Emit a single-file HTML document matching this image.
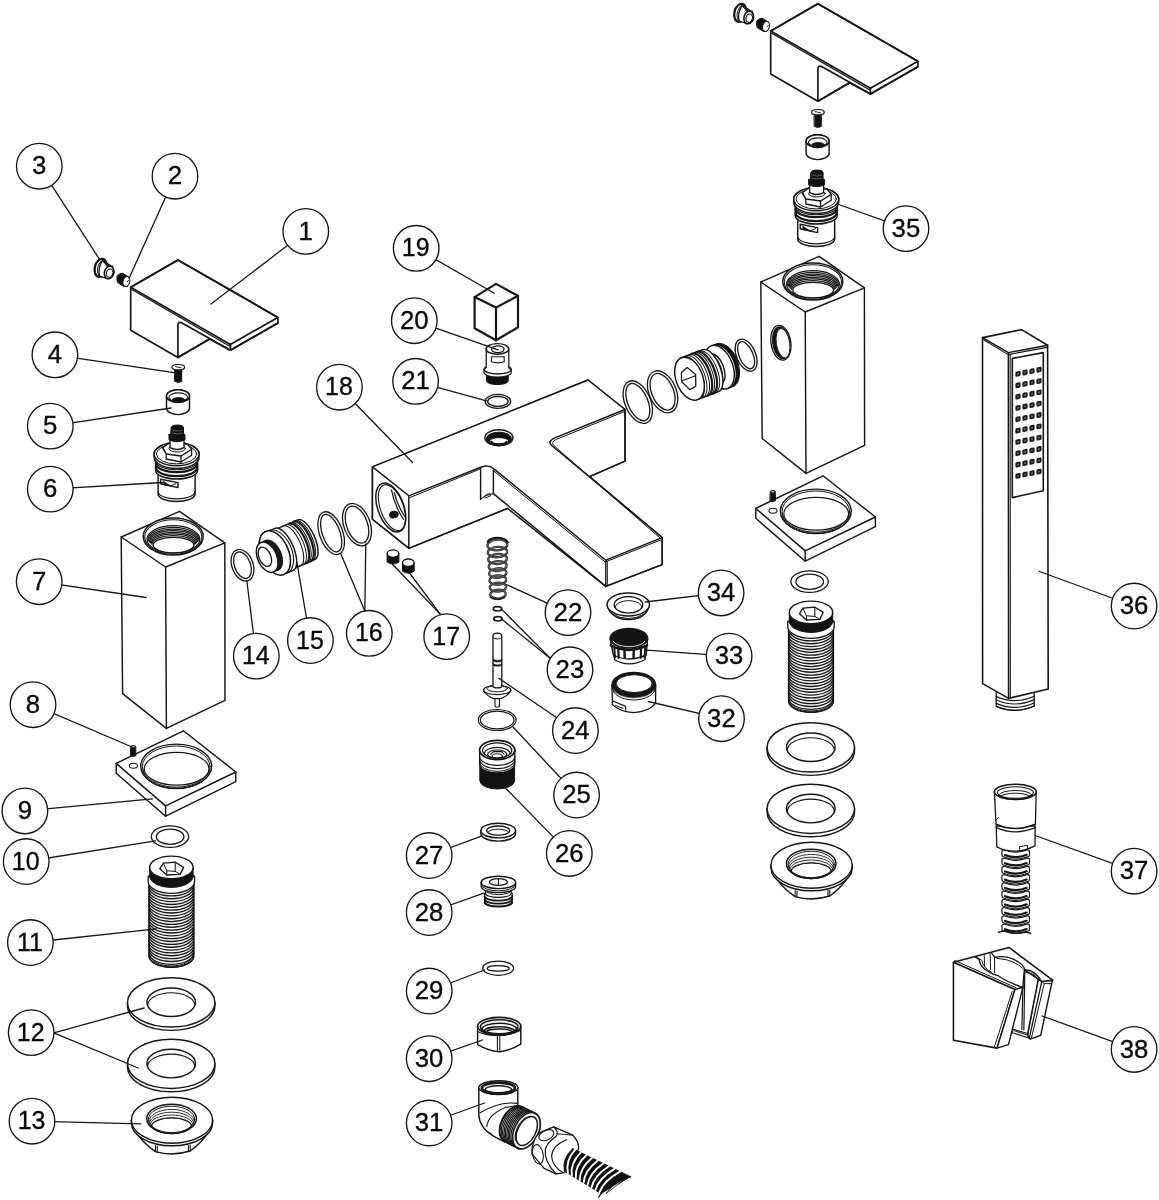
<!DOCTYPE html>
<html><head><meta charset="utf-8"><title>Exploded parts diagram</title>
<style>
html,body{margin:0;padding:0;background:#fff;}
svg{display:block;filter:grayscale(1);}
text{font-family:"Liberation Sans",sans-serif;font-size:26.4px;fill:#0a0a0a;stroke:#0a0a0a;stroke-width:0.35px;text-anchor:middle;}
</style></head><body>
<svg width="1159" height="1200" viewBox="0 0 1159 1200">
<rect width="1159" height="1200" fill="#fff"/>
<g fill="none" stroke="#161616" stroke-width="1.45" stroke-linejoin="round" stroke-linecap="round">
<g transform="translate(0.00 0.00)">
<path d="M130.70 287.20 L177.90 259.90 L277.90 317.40 L277.90 323.00 L230.40 350.20 L209.60 339.00 L177.90 357.40 L130.70 330.20 Z" fill="#fff" stroke-width="1.7" />
<path d="M130.70 287.20 L177.90 259.90 L277.90 317.40 L230.40 344.40 Z" fill="none" stroke-width="1.7" />
<path d="M131.80 289.40 L229.80 346.20" fill="none" stroke-width="1.2" />
<path d="M230.40 344.40 L230.40 350.20" fill="none" stroke-width="1.7" />
<path d="M230.40 350.20 L277.90 323.00" fill="none" stroke-width="1.7" />
<path d="M177.90 357.40 L177.90 325.20 Q177.90 321.40 181.60 322.80 L230.40 350.20" fill="none" stroke-width="1.7" />
<path d="M177.90 357.40 L209.60 339.00" fill="none" stroke-width="1.7" />
</g>
<ellipse cx="100.60" cy="267.80" rx="5.75" ry="9.16" fill="#fff" transform="rotate(14.00 100.60 267.80)" stroke-width="2.3"/>
<ellipse cx="102.40" cy="268.40" rx="4.76" ry="7.95" fill="#fff" transform="rotate(14.00 102.40 268.40)" stroke-width="1.0"/>
<path d="M102.6 260.4 L110.2 265.4 Q114.2 268.4 113.8 273 Q112.4 278.4 107.4 278.6 L99.6 276.2 Q97.4 268 102.6 260.4 Z" fill="#fff" stroke-width="1.3" />
<path d="M103.6 261.6 L109.6 267 L112.6 266.4" fill="none" stroke-width="1.6" />
<path d="M105.6 265.0 L108.8 268.0" fill="none" stroke-width="1.0" />
<ellipse cx="109.10" cy="272.50" rx="4.68" ry="6.39" fill="#fff" transform="rotate(14.00 109.10 272.50)" stroke-width="1.6"/>
<ellipse cx="109.60" cy="273.20" rx="3.23" ry="4.25" fill="none" transform="rotate(14.00 109.60 273.20)" stroke-width="1.1"/>
<path d="M117.2 276.2 Q118.4 273.6 122.4 273.2 L128.4 276.8 L127.4 286.2 L123.6 286.4 L117.6 282.6 Q116.4 279.6 117.2 276.2 Z" fill="#111" stroke-width="1" />
<ellipse cx="126.40" cy="281.40" rx="3.35" ry="5.01" fill="#fff" transform="rotate(16.00 126.40 281.40)" stroke-width="1.1"/>
<path d="M128.6 280.4 L127.2 281.8" fill="none" stroke-width="1.0" />
<path d="M174.9 370 L181.7 370 L181.7 381.5 Q178.3 383.3 174.9 381.5 Z" fill="#111" stroke-width="1" />
<path d="M172 367.3 Q178.3 372.8 184.6 367.3 Z" fill="#fff" stroke-width="1.1" />
<ellipse cx="178.30" cy="367.20" rx="6.30" ry="2.70" fill="#fff" stroke-width="1.2"/>
<path d="M175.50 366.60 L181.00 367.80" fill="none" stroke-width="0.9" />
<path d="M166.50 396.20 L166.50 408.20 A11.50 6.40 0 0 0 189.50 408.20 L189.50 396.20 A11.50 6.40 0 0 0 166.50 396.20 Z" fill="#fff" />
<ellipse cx="178.00" cy="396.20" rx="11.50" ry="6.40" fill="#fff"/>
<ellipse cx="178.20" cy="397.40" rx="9.40" ry="4.50" fill="none" stroke-width="1.1"/>
<path d="M169.6 398.6 A8.8 4.4 0 0 0 186.8 398.6" fill="none" stroke-width="1.0" />
<ellipse cx="178.60" cy="399.80" rx="6.40" ry="2.30" fill="#111" stroke-width="0.8"/>
<path d="M158.10 471.00 L158.10 494.00 A18.50 7.50 0 0 0 195.10 494.00 L195.10 471.00" fill="#fff" />
<path d="M158.10 491.40 A18.50 7.50 0 0 0 195.10 491.40" fill="none" stroke-width="1.1" />
<path d="M155.60 456 L155.60 470.5 A21 8.5 0 0 0 197.60 470.5 L197.60 456 Z" fill="#fff" />
<path d="M155.60 461.20 A21.00 8.50 0 0 0 197.60 461.20" fill="none" stroke-width="1.1" />
<path d="M156.00 463.80 A20.60 8.30 0 0 0 197.20 463.80" fill="none" stroke-width="2.2" />
<path d="M156.00 467.80 A20.60 8.30 0 0 0 197.20 467.80" fill="none" stroke-width="2.2" />
<path d="M160.6 479.2 L178 482.6 L178 487.6 L160.6 483.8 Z" fill="#fff" stroke-width="1.4" />
<path d="M163.6 481.4 L170.5 486 L163.6 484.6 Z" fill="#111" stroke-width="0.8" />
<path d="M170.50 486.00 L176.00 483.60" fill="none" stroke-width="1.0" />
<path d="M154.10 454.20 L154.10 457.00 A22.50 11.60 0 0 0 199.10 457.00 L199.10 454.20 A22.50 11.60 0 0 0 154.10 454.20 Z" fill="#fff" />
<ellipse cx="176.60" cy="454.20" rx="22.50" ry="11.60" fill="#fff"/>
<ellipse cx="176.60" cy="454.00" rx="20.20" ry="9.90" fill="none" stroke-width="1.0"/>
<path d="M162.6 447.6 L169 443.2 L187.4 444 L191.6 449.4 L191.6 455.2 L181 462 L166.2 459 L166.2 454 Z" fill="#fff" stroke-width="1.3" />
<path d="M162.6 447.6 L166.4 454 L181 456 L191.6 449.4" fill="none" stroke-width="1.3" />
<path d="M181.00 456.00 L181.00 462.00" fill="none" stroke-width="1.3" />
<ellipse cx="177.20" cy="448.60" rx="8.20" ry="3.40" fill="none" stroke-width="1.0"/>
<path d="M170 440 L170 447.6 Q177 451.4 184 447.6 L184 440 Z" fill="#fff" stroke-width="1.3" />
<path d="M169 434.6 L169 439.8 Q177 443.6 185 439.8 L185 434.6 Q177 431 169 434.6 Z" fill="#111" stroke-width="1" />
<path d="M171 428 Q171 425.2 177.2 425 Q183.5 425.2 183.5 428 L183.5 437 Q177.2 440 171 437 Z" fill="#111" stroke-width="1" />
<path d="M172.4 430.2 Q177.2 432.0 182.2 430.2" fill="none" stroke-width="0.6" stroke="#888"/>
<path d="M172.4 433.2 Q177.2 435.0 182.2 433.2" fill="none" stroke-width="0.6" stroke="#888"/>
<path d="M179.50 511.30 L224.80 542.80 L225.00 700.40 L166.40 728.40 L122.60 693.60 L121.20 537.00 Z" fill="#fff" />
<path d="M121.20 537.00 L165.60 567.00 L224.80 542.80" fill="none" />
<path d="M165.60 567.00 L166.40 728.40" fill="none" />
<ellipse cx="173.20" cy="536.50" rx="30.00" ry="18.50" fill="#fff"/>
<ellipse cx="173.30" cy="537.00" rx="28.60" ry="17.30" fill="none" stroke-width="1.1"/>
<ellipse cx="173.40" cy="539.30" rx="26.40" ry="13.60" fill="none" stroke-width="1.2"/>
<path d="M147.83 540.13 A25.57 12.77 0 0 1 198.97 540.13" fill="none" stroke-width="1.25" />
<path d="M148.66 540.96 A24.74 11.94 0 0 1 198.14 540.96" fill="none" stroke-width="1.25" />
<path d="M149.49 541.79 A23.91 11.11 0 0 1 197.31 541.79" fill="none" stroke-width="1.25" />
<path d="M150.31 542.61 A23.09 10.29 0 0 1 196.49 542.61" fill="none" stroke-width="1.25" />
<path d="M151.14 543.44 A22.26 9.46 0 0 1 195.66 543.44" fill="none" stroke-width="1.25" />
<path d="M151.97 544.27 A21.43 8.63 0 0 1 194.83 544.27" fill="none" stroke-width="1.25" />
<ellipse cx="173.50" cy="545.10" rx="20.40" ry="7.70" fill="#fff" stroke-width="1.3"/>
<path d="M183.40 730.80 L235.80 772.00 L235.80 781.70 L165.60 816.20 L116.20 773.30 L116.20 763.40 Z" fill="#fff" />
<path d="M116.20 763.40 L165.60 805.90 L235.80 772.00" fill="none" />
<path d="M165.60 805.90 L165.60 816.20" fill="none" />
<ellipse cx="176.20" cy="766.20" rx="35.40" ry="22.10" fill="none"/>
<ellipse cx="176.20" cy="766.60" rx="33.80" ry="20.60" fill="none" stroke-width="1.0"/>
<ellipse cx="176.60" cy="768.80" rx="32.40" ry="16.40" fill="none" stroke-width="1.2"/>
<path d="M143.00 769.60 A33 19 0 0 0 209.60 769.60" fill="none" stroke-width="1.0" />
<ellipse cx="133.40" cy="765.80" rx="4.10" ry="2.50" fill="none" stroke-width="1.1"/>
<path d="M130.6 747 Q130.6 745.6 133.2 745.6 Q135.8 745.6 135.8 747 L135.8 755.8 Q133.2 757.2 130.6 755.8 Z" fill="#111" stroke-width="1" />
<ellipse cx="133.20" cy="746.80" rx="2.20" ry="1.00" fill="#ddd" stroke-width="0.7"/>
<ellipse cx="170.00" cy="836.60" rx="18.70" ry="10.80" fill="#fff" stroke-width="1.3"/>
<ellipse cx="170.10" cy="836.70" rx="13.80" ry="7.60" fill="none" stroke-width="1.3"/>
<path d="M149.00 876.00 L149.00 955.80 A22.40 11.40 0 0 0 193.80 955.80 L193.80 876.00 Z" fill="#fff" />
<path d="M149.00 884.50 A22.40 11.40 0 0 0 193.80 884.50" fill="none" stroke-width="1.35" />
<path d="M149.00 887.35 A22.40 11.40 0 0 0 193.80 887.35" fill="none" stroke-width="1.35" />
<path d="M149.00 890.20 A22.40 11.40 0 0 0 193.80 890.20" fill="none" stroke-width="1.35" />
<path d="M149.00 893.06 A22.40 11.40 0 0 0 193.80 893.06" fill="none" stroke-width="1.35" />
<path d="M149.00 895.91 A22.40 11.40 0 0 0 193.80 895.91" fill="none" stroke-width="1.35" />
<path d="M149.00 898.76 A22.40 11.40 0 0 0 193.80 898.76" fill="none" stroke-width="1.35" />
<path d="M149.00 901.61 A22.40 11.40 0 0 0 193.80 901.61" fill="none" stroke-width="1.35" />
<path d="M149.00 904.46 A22.40 11.40 0 0 0 193.80 904.46" fill="none" stroke-width="1.35" />
<path d="M149.00 907.32 A22.40 11.40 0 0 0 193.80 907.32" fill="none" stroke-width="1.35" />
<path d="M149.00 910.17 A22.40 11.40 0 0 0 193.80 910.17" fill="none" stroke-width="1.35" />
<path d="M149.00 913.02 A22.40 11.40 0 0 0 193.80 913.02" fill="none" stroke-width="1.35" />
<path d="M149.00 915.87 A22.40 11.40 0 0 0 193.80 915.87" fill="none" stroke-width="1.35" />
<path d="M149.00 918.72 A22.40 11.40 0 0 0 193.80 918.72" fill="none" stroke-width="1.35" />
<path d="M149.00 921.58 A22.40 11.40 0 0 0 193.80 921.58" fill="none" stroke-width="1.35" />
<path d="M149.00 924.43 A22.40 11.40 0 0 0 193.80 924.43" fill="none" stroke-width="1.35" />
<path d="M149.00 927.28 A22.40 11.40 0 0 0 193.80 927.28" fill="none" stroke-width="1.35" />
<path d="M149.00 930.13 A22.40 11.40 0 0 0 193.80 930.13" fill="none" stroke-width="1.35" />
<path d="M149.00 932.98 A22.40 11.40 0 0 0 193.80 932.98" fill="none" stroke-width="1.35" />
<path d="M149.00 935.84 A22.40 11.40 0 0 0 193.80 935.84" fill="none" stroke-width="1.35" />
<path d="M149.00 938.69 A22.40 11.40 0 0 0 193.80 938.69" fill="none" stroke-width="1.35" />
<path d="M149.00 941.54 A22.40 11.40 0 0 0 193.80 941.54" fill="none" stroke-width="1.35" />
<path d="M149.00 944.39 A22.40 11.40 0 0 0 193.80 944.39" fill="none" stroke-width="1.35" />
<path d="M149.00 947.24 A22.40 11.40 0 0 0 193.80 947.24" fill="none" stroke-width="1.35" />
<path d="M149.00 950.10 A22.40 11.40 0 0 0 193.80 950.10" fill="none" stroke-width="1.35" />
<path d="M149.00 952.95 A22.40 11.40 0 0 0 193.80 952.95" fill="none" stroke-width="1.35" />
<path d="M149.00 955.80 A22.40 11.40 0 0 0 193.80 955.80" fill="none" stroke-width="1.35" />
<path d="M149.80 954.60 A21.60 11.40 0 0 0 193.00 954.60" fill="none" stroke-width="1.0" />
<path d="M148.20 876.5 L148.20 881.5 A23.20 11.80 0 0 0 194.60 881.5 L194.60 876.5 Z" fill="#fff" stroke-width="1.3" />
<path d="M149.70 867.60 L149.70 876.20 A21.70 11.20 0 0 0 193.10 876.20 L193.10 867.60 A21.70 11.20 0 0 1 149.70 867.60 Z" fill="#111" stroke-width="1" />
<ellipse cx="171.40" cy="867.40" rx="21.70" ry="11.30" fill="#fff"/>
<path d="M159.80 868.80 L163.40 863.20 L175.40 862.20 L183.60 867.40 L180.20 874.40 L166.80 875.00 Z" fill="none" stroke-width="1.3" />
<path d="M175.20 862.40 L175.20 871.40" fill="none" stroke-width="1.1" />
<path d="M163.4 863.2 L166.8 870.8 L175.2 871.4 L180.2 874.4" fill="none" stroke-width="1.0" />
<path d="M166.80 870.80 L166.80 875.00" fill="none" stroke-width="1.0" />
<path d="M127.50 1002.40 L127.50 1005.80 A43.7 24.6 0 0 0 214.90 1005.80 L214.90 1002.40" fill="#fff" />
<ellipse cx="171.20" cy="1002.40" rx="43.70" ry="24.60" fill="#fff"/>
<ellipse cx="171.20" cy="1002.20" rx="24.30" ry="14.30" fill="#fff"/>
<path d="M147.60 1005.40 A23.4 12.6 0 0 1 194.80 1005.40" fill="none" stroke-width="1.1" />
<path d="M127.50 1063.80 L127.50 1067.20 A43.7 24.6 0 0 0 214.90 1067.20 L214.90 1063.80" fill="#fff" />
<ellipse cx="171.20" cy="1063.80" rx="43.70" ry="24.60" fill="#fff"/>
<ellipse cx="171.20" cy="1063.60" rx="24.30" ry="14.30" fill="#fff"/>
<path d="M147.60 1066.80 A23.4 12.6 0 0 1 194.80 1066.80" fill="none" stroke-width="1.1" />
<path d="M131.40 1120.20 Q134.6 1137 155.4 1151.6 Q172 1156.5 190.2 1151 Q209.6 1137 212.60 1120.20 Z" fill="#fff" />
<path d="M141 1138.5 Q172 1150 203.5 1137.5" fill="none" stroke-width="1.0" />
<path d="M155.60 1145.50 L155.40 1151.60" fill="none" stroke-width="1.1" />
<path d="M157.40 1146.00 L157.20 1152.20" fill="none" stroke-width="1.1" />
<path d="M188.40 1145.60 L188.40 1151.60" fill="none" stroke-width="1.1" />
<path d="M190.20 1145.00 L190.20 1151.00" fill="none" stroke-width="1.1" />
<path d="M131.40 1120.20 L131.40 1122.80 A40.6 23 0 0 0 212.60 1122.80 L212.60 1120.20" fill="#fff" />
<ellipse cx="172.00" cy="1120.20" rx="40.60" ry="23.00" fill="#fff"/>
<ellipse cx="171.60" cy="1118.80" rx="24.80" ry="14.60" fill="#fff"/>
<ellipse cx="171.60" cy="1119.40" rx="23.20" ry="13.20" fill="none" stroke-width="1.0"/>
<path d="M149.00 1121.20 A22.60 11.80 0 0 1 194.20 1121.20" fill="none" stroke-width="0.9" />
<path d="M149.60 1123.00 A22.00 10.80 0 0 1 193.60 1123.00" fill="none" stroke-width="0.9" />
<path d="M150.20 1124.80 A21.40 9.80 0 0 1 193.00 1124.80" fill="none" stroke-width="0.9" />
<path d="M151.00 1126.60 A20.60 9.00 0 0 1 192.20 1126.60" fill="none" stroke-width="0.9" />
<path d="M151.60 1126.40 A19 8 0 0 1 191.60 1126.40 A21 10.4 0 0 1 151.60 1126.40" fill="none" stroke-width="1.1" />
<g transform="translate(639.60 -255.00)">
<g transform="translate(0.40 -1.20)">
<path d="M130.70 287.20 L177.90 259.90 L277.90 317.40 L277.90 323.00 L230.40 350.20 L209.60 339.00 L177.90 357.40 L130.70 330.20 Z" fill="#fff" stroke-width="1.7" />
<path d="M130.70 287.20 L177.90 259.90 L277.90 317.40 L230.40 344.40 Z" fill="none" stroke-width="1.7" />
<path d="M131.80 289.40 L229.80 346.20" fill="none" stroke-width="1.2" />
<path d="M230.40 344.40 L230.40 350.20" fill="none" stroke-width="1.7" />
<path d="M230.40 350.20 L277.90 323.00" fill="none" stroke-width="1.7" />
<path d="M177.90 357.40 L177.90 325.20 Q177.90 321.40 181.60 322.80 L230.40 350.20" fill="none" stroke-width="1.7" />
<path d="M177.90 357.40 L209.60 339.00" fill="none" stroke-width="1.7" />
</g>
<ellipse cx="100.60" cy="267.80" rx="5.75" ry="9.16" fill="#fff" transform="rotate(14.00 100.60 267.80)" stroke-width="2.3"/>
<ellipse cx="102.40" cy="268.40" rx="4.76" ry="7.95" fill="#fff" transform="rotate(14.00 102.40 268.40)" stroke-width="1.0"/>
<path d="M102.6 260.4 L110.2 265.4 Q114.2 268.4 113.8 273 Q112.4 278.4 107.4 278.6 L99.6 276.2 Q97.4 268 102.6 260.4 Z" fill="#fff" stroke-width="1.3" />
<path d="M103.6 261.6 L109.6 267 L112.6 266.4" fill="none" stroke-width="1.6" />
<path d="M105.6 265.0 L108.8 268.0" fill="none" stroke-width="1.0" />
<ellipse cx="109.10" cy="272.50" rx="4.68" ry="6.39" fill="#fff" transform="rotate(14.00 109.10 272.50)" stroke-width="1.6"/>
<ellipse cx="109.60" cy="273.20" rx="3.23" ry="4.25" fill="none" transform="rotate(14.00 109.60 273.20)" stroke-width="1.1"/>
<path d="M117.2 276.2 Q118.4 273.6 122.4 273.2 L128.4 276.8 L127.4 286.2 L123.6 286.4 L117.6 282.6 Q116.4 279.6 117.2 276.2 Z" fill="#111" stroke-width="1" />
<ellipse cx="126.40" cy="281.40" rx="3.35" ry="5.01" fill="#fff" transform="rotate(16.00 126.40 281.40)" stroke-width="1.1"/>
<path d="M128.6 280.4 L127.2 281.8" fill="none" stroke-width="1.0" />
<path d="M174.9 370 L181.7 370 L181.7 381.5 Q178.3 383.3 174.9 381.5 Z" fill="#111" stroke-width="1" />
<path d="M172 367.3 Q178.3 372.8 184.6 367.3 Z" fill="#fff" stroke-width="1.1" />
<ellipse cx="178.30" cy="367.20" rx="6.30" ry="2.70" fill="#fff" stroke-width="1.2"/>
<path d="M175.50 366.60 L181.00 367.80" fill="none" stroke-width="0.9" />
<path d="M166.50 396.20 L166.50 408.20 A11.50 6.40 0 0 0 189.50 408.20 L189.50 396.20 A11.50 6.40 0 0 0 166.50 396.20 Z" fill="#fff" />
<ellipse cx="178.00" cy="396.20" rx="11.50" ry="6.40" fill="#fff"/>
<ellipse cx="178.20" cy="397.40" rx="9.40" ry="4.50" fill="none" stroke-width="1.1"/>
<path d="M169.6 398.6 A8.8 4.4 0 0 0 186.8 398.6" fill="none" stroke-width="1.0" />
<ellipse cx="178.60" cy="399.80" rx="6.40" ry="2.30" fill="#111" stroke-width="0.8"/>
<path d="M158.10 471.00 L158.10 494.00 A18.50 7.50 0 0 0 195.10 494.00 L195.10 471.00" fill="#fff" />
<path d="M158.10 491.40 A18.50 7.50 0 0 0 195.10 491.40" fill="none" stroke-width="1.1" />
<path d="M155.60 456 L155.60 470.5 A21 8.5 0 0 0 197.60 470.5 L197.60 456 Z" fill="#fff" />
<path d="M155.60 461.20 A21.00 8.50 0 0 0 197.60 461.20" fill="none" stroke-width="1.1" />
<path d="M156.00 463.80 A20.60 8.30 0 0 0 197.20 463.80" fill="none" stroke-width="2.2" />
<path d="M156.00 467.80 A20.60 8.30 0 0 0 197.20 467.80" fill="none" stroke-width="2.2" />
<path d="M160.6 479.2 L178 482.6 L178 487.6 L160.6 483.8 Z" fill="#fff" stroke-width="1.4" />
<path d="M163.6 481.4 L170.5 486 L163.6 484.6 Z" fill="#111" stroke-width="0.8" />
<path d="M170.50 486.00 L176.00 483.60" fill="none" stroke-width="1.0" />
<path d="M154.10 454.20 L154.10 457.00 A22.50 11.60 0 0 0 199.10 457.00 L199.10 454.20 A22.50 11.60 0 0 0 154.10 454.20 Z" fill="#fff" />
<ellipse cx="176.60" cy="454.20" rx="22.50" ry="11.60" fill="#fff"/>
<ellipse cx="176.60" cy="454.00" rx="20.20" ry="9.90" fill="none" stroke-width="1.0"/>
<path d="M162.6 447.6 L169 443.2 L187.4 444 L191.6 449.4 L191.6 455.2 L181 462 L166.2 459 L166.2 454 Z" fill="#fff" stroke-width="1.3" />
<path d="M162.6 447.6 L166.4 454 L181 456 L191.6 449.4" fill="none" stroke-width="1.3" />
<path d="M181.00 456.00 L181.00 462.00" fill="none" stroke-width="1.3" />
<ellipse cx="177.20" cy="448.60" rx="8.20" ry="3.40" fill="none" stroke-width="1.0"/>
<path d="M170 440 L170 447.6 Q177 451.4 184 447.6 L184 440 Z" fill="#fff" stroke-width="1.3" />
<path d="M169 434.6 L169 439.8 Q177 443.6 185 439.8 L185 434.6 Q177 431 169 434.6 Z" fill="#111" stroke-width="1" />
<path d="M171 428 Q171 425.2 177.2 425 Q183.5 425.2 183.5 428 L183.5 437 Q177.2 440 171 437 Z" fill="#111" stroke-width="1" />
<path d="M172.4 430.2 Q177.2 432.0 182.2 430.2" fill="none" stroke-width="0.6" stroke="#888"/>
<path d="M172.4 433.2 Q177.2 435.0 182.2 433.2" fill="none" stroke-width="0.6" stroke="#888"/>
<path d="M179.50 511.30 L224.80 542.80 L225.00 700.40 L166.40 728.40 L122.60 693.60 L121.20 537.00 Z" fill="#fff" />
<path d="M121.20 537.00 L165.60 567.00 L224.80 542.80" fill="none" />
<path d="M165.60 567.00 L166.40 728.40" fill="none" />
<ellipse cx="173.20" cy="536.50" rx="30.00" ry="18.50" fill="#fff"/>
<ellipse cx="173.30" cy="537.00" rx="28.60" ry="17.30" fill="none" stroke-width="1.1"/>
<ellipse cx="173.40" cy="539.30" rx="26.40" ry="13.60" fill="none" stroke-width="1.2"/>
<path d="M147.83 540.13 A25.57 12.77 0 0 1 198.97 540.13" fill="none" stroke-width="1.25" />
<path d="M148.66 540.96 A24.74 11.94 0 0 1 198.14 540.96" fill="none" stroke-width="1.25" />
<path d="M149.49 541.79 A23.91 11.11 0 0 1 197.31 541.79" fill="none" stroke-width="1.25" />
<path d="M150.31 542.61 A23.09 10.29 0 0 1 196.49 542.61" fill="none" stroke-width="1.25" />
<path d="M151.14 543.44 A22.26 9.46 0 0 1 195.66 543.44" fill="none" stroke-width="1.25" />
<path d="M151.97 544.27 A21.43 8.63 0 0 1 194.83 544.27" fill="none" stroke-width="1.25" />
<ellipse cx="173.50" cy="545.10" rx="20.40" ry="7.70" fill="#fff" stroke-width="1.3"/>
<ellipse cx="141.30" cy="597.70" rx="9.84" ry="17.55" fill="#fff" transform="rotate(-9.00 141.30 597.70)" stroke-width="1.3"/>
<ellipse cx="141.60" cy="597.80" rx="8.63" ry="16.34" fill="#161616" transform="rotate(-9.00 141.60 597.80)" stroke-width="0.8"/>
<ellipse cx="143.40" cy="598.20" rx="6.69" ry="14.85" fill="#fff" transform="rotate(-9.00 143.40 598.20)" stroke-width="0.9"/>
<path d="M183.40 730.80 L235.80 772.00 L235.80 781.70 L165.60 816.20 L116.20 773.30 L116.20 763.40 Z" fill="#fff" />
<path d="M116.20 763.40 L165.60 805.90 L235.80 772.00" fill="none" />
<path d="M165.60 805.90 L165.60 816.20" fill="none" />
<ellipse cx="176.20" cy="766.20" rx="35.40" ry="22.10" fill="none"/>
<ellipse cx="176.20" cy="766.60" rx="33.80" ry="20.60" fill="none" stroke-width="1.0"/>
<ellipse cx="176.60" cy="768.80" rx="32.40" ry="16.40" fill="none" stroke-width="1.2"/>
<path d="M143.00 769.60 A33 19 0 0 0 209.60 769.60" fill="none" stroke-width="1.0" />
<ellipse cx="133.40" cy="765.80" rx="4.10" ry="2.50" fill="none" stroke-width="1.1"/>
<path d="M130.6 747 Q130.6 745.6 133.2 745.6 Q135.8 745.6 135.8 747 L135.8 755.8 Q133.2 757.2 130.6 755.8 Z" fill="#111" stroke-width="1" />
<ellipse cx="133.20" cy="746.80" rx="2.20" ry="1.00" fill="#ddd" stroke-width="0.7"/>
<ellipse cx="170.00" cy="836.60" rx="18.70" ry="10.80" fill="#fff" stroke-width="1.3"/>
<ellipse cx="170.10" cy="836.70" rx="13.80" ry="7.60" fill="none" stroke-width="1.3"/>
<path d="M149.00 876.00 L149.00 955.80 A22.40 11.40 0 0 0 193.80 955.80 L193.80 876.00 Z" fill="#fff" />
<path d="M149.00 884.50 A22.40 11.40 0 0 0 193.80 884.50" fill="none" stroke-width="1.35" />
<path d="M149.00 887.35 A22.40 11.40 0 0 0 193.80 887.35" fill="none" stroke-width="1.35" />
<path d="M149.00 890.20 A22.40 11.40 0 0 0 193.80 890.20" fill="none" stroke-width="1.35" />
<path d="M149.00 893.06 A22.40 11.40 0 0 0 193.80 893.06" fill="none" stroke-width="1.35" />
<path d="M149.00 895.91 A22.40 11.40 0 0 0 193.80 895.91" fill="none" stroke-width="1.35" />
<path d="M149.00 898.76 A22.40 11.40 0 0 0 193.80 898.76" fill="none" stroke-width="1.35" />
<path d="M149.00 901.61 A22.40 11.40 0 0 0 193.80 901.61" fill="none" stroke-width="1.35" />
<path d="M149.00 904.46 A22.40 11.40 0 0 0 193.80 904.46" fill="none" stroke-width="1.35" />
<path d="M149.00 907.32 A22.40 11.40 0 0 0 193.80 907.32" fill="none" stroke-width="1.35" />
<path d="M149.00 910.17 A22.40 11.40 0 0 0 193.80 910.17" fill="none" stroke-width="1.35" />
<path d="M149.00 913.02 A22.40 11.40 0 0 0 193.80 913.02" fill="none" stroke-width="1.35" />
<path d="M149.00 915.87 A22.40 11.40 0 0 0 193.80 915.87" fill="none" stroke-width="1.35" />
<path d="M149.00 918.72 A22.40 11.40 0 0 0 193.80 918.72" fill="none" stroke-width="1.35" />
<path d="M149.00 921.58 A22.40 11.40 0 0 0 193.80 921.58" fill="none" stroke-width="1.35" />
<path d="M149.00 924.43 A22.40 11.40 0 0 0 193.80 924.43" fill="none" stroke-width="1.35" />
<path d="M149.00 927.28 A22.40 11.40 0 0 0 193.80 927.28" fill="none" stroke-width="1.35" />
<path d="M149.00 930.13 A22.40 11.40 0 0 0 193.80 930.13" fill="none" stroke-width="1.35" />
<path d="M149.00 932.98 A22.40 11.40 0 0 0 193.80 932.98" fill="none" stroke-width="1.35" />
<path d="M149.00 935.84 A22.40 11.40 0 0 0 193.80 935.84" fill="none" stroke-width="1.35" />
<path d="M149.00 938.69 A22.40 11.40 0 0 0 193.80 938.69" fill="none" stroke-width="1.35" />
<path d="M149.00 941.54 A22.40 11.40 0 0 0 193.80 941.54" fill="none" stroke-width="1.35" />
<path d="M149.00 944.39 A22.40 11.40 0 0 0 193.80 944.39" fill="none" stroke-width="1.35" />
<path d="M149.00 947.24 A22.40 11.40 0 0 0 193.80 947.24" fill="none" stroke-width="1.35" />
<path d="M149.00 950.10 A22.40 11.40 0 0 0 193.80 950.10" fill="none" stroke-width="1.35" />
<path d="M149.00 952.95 A22.40 11.40 0 0 0 193.80 952.95" fill="none" stroke-width="1.35" />
<path d="M149.00 955.80 A22.40 11.40 0 0 0 193.80 955.80" fill="none" stroke-width="1.35" />
<path d="M149.80 954.60 A21.60 11.40 0 0 0 193.00 954.60" fill="none" stroke-width="1.0" />
<path d="M148.20 876.5 L148.20 881.5 A23.20 11.80 0 0 0 194.60 881.5 L194.60 876.5 Z" fill="#fff" stroke-width="1.3" />
<path d="M149.70 867.60 L149.70 876.20 A21.70 11.20 0 0 0 193.10 876.20 L193.10 867.60 A21.70 11.20 0 0 1 149.70 867.60 Z" fill="#111" stroke-width="1" />
<ellipse cx="171.40" cy="867.40" rx="21.70" ry="11.30" fill="#fff"/>
<path d="M159.80 868.80 L163.40 863.20 L175.40 862.20 L183.60 867.40 L180.20 874.40 L166.80 875.00 Z" fill="none" stroke-width="1.3" />
<path d="M175.20 862.40 L175.20 871.40" fill="none" stroke-width="1.1" />
<path d="M163.4 863.2 L166.8 870.8 L175.2 871.4 L180.2 874.4" fill="none" stroke-width="1.0" />
<path d="M166.80 870.80 L166.80 875.00" fill="none" stroke-width="1.0" />
<path d="M127.50 1002.40 L127.50 1005.80 A43.7 24.6 0 0 0 214.90 1005.80 L214.90 1002.40" fill="#fff" />
<ellipse cx="171.20" cy="1002.40" rx="43.70" ry="24.60" fill="#fff"/>
<ellipse cx="171.20" cy="1002.20" rx="24.30" ry="14.30" fill="#fff"/>
<path d="M147.60 1005.40 A23.4 12.6 0 0 1 194.80 1005.40" fill="none" stroke-width="1.1" />
<path d="M127.50 1063.80 L127.50 1067.20 A43.7 24.6 0 0 0 214.90 1067.20 L214.90 1063.80" fill="#fff" />
<ellipse cx="171.20" cy="1063.80" rx="43.70" ry="24.60" fill="#fff"/>
<ellipse cx="171.20" cy="1063.60" rx="24.30" ry="14.30" fill="#fff"/>
<path d="M147.60 1066.80 A23.4 12.6 0 0 1 194.80 1066.80" fill="none" stroke-width="1.1" />
<path d="M131.40 1120.20 Q134.6 1137 155.4 1151.6 Q172 1156.5 190.2 1151 Q209.6 1137 212.60 1120.20 Z" fill="#fff" />
<path d="M141 1138.5 Q172 1150 203.5 1137.5" fill="none" stroke-width="1.0" />
<path d="M155.60 1145.50 L155.40 1151.60" fill="none" stroke-width="1.1" />
<path d="M157.40 1146.00 L157.20 1152.20" fill="none" stroke-width="1.1" />
<path d="M188.40 1145.60 L188.40 1151.60" fill="none" stroke-width="1.1" />
<path d="M190.20 1145.00 L190.20 1151.00" fill="none" stroke-width="1.1" />
<path d="M131.40 1120.20 L131.40 1122.80 A40.6 23 0 0 0 212.60 1122.80 L212.60 1120.20" fill="#fff" />
<ellipse cx="172.00" cy="1120.20" rx="40.60" ry="23.00" fill="#fff"/>
<ellipse cx="171.60" cy="1118.80" rx="24.80" ry="14.60" fill="#fff"/>
<ellipse cx="171.60" cy="1119.40" rx="23.20" ry="13.20" fill="none" stroke-width="1.0"/>
<path d="M149.00 1121.20 A22.60 11.80 0 0 1 194.20 1121.20" fill="none" stroke-width="0.9" />
<path d="M149.60 1123.00 A22.00 10.80 0 0 1 193.60 1123.00" fill="none" stroke-width="0.9" />
<path d="M150.20 1124.80 A21.40 9.80 0 0 1 193.00 1124.80" fill="none" stroke-width="0.9" />
<path d="M151.00 1126.60 A20.60 9.00 0 0 1 192.20 1126.60" fill="none" stroke-width="0.9" />
<path d="M151.60 1126.40 A19 8 0 0 1 191.60 1126.40 A21 10.4 0 0 1 151.60 1126.40" fill="none" stroke-width="1.1" />
</g>
<path d="M372.40 466.90 L588.00 380.00 L625.00 409.50 L625.00 461.20 L589.60 476.60 L662.20 537.60 L662.20 564.60 L605.80 586.40 L507.60 508.40 L408.80 548.30 L372.40 519.20 Z" fill="#fff" />
<path d="M372.40 466.90 L588.00 380.00 L625.00 409.50 L555.50 437.70 Q547.00 441.20 551.40 445.20 L662.20 537.60 L605.80 560.20 L493.60 468.60 Q488.60 464.40 481.40 467.00 L408.80 495.80 Z" fill="#fff" />
<path d="M624.2 411.6 L556.4 439.4 Q550.6 442 553.6 445.4 L661 538.8" fill="none" stroke-width="1.0" />
<path d="M410.2 497.4 L480.6 468.8" fill="none" stroke-width="1.0" />
<path d="M494.0 471.2 L605.2 562.0 L661.6 539.6" fill="none" stroke-width="1.0" />
<path d="M372.40 466.90 L372.40 519.20 L408.80 548.30 L408.80 495.80" fill="none" />
<path d="M408.80 548.30 L507.60 508.40" fill="none" />
<path d="M480.60 468.20 L480.60 499.40" fill="none" />
<path d="M493.40 470.20 L493.40 493.60" fill="none" />
<path d="M480.6 499.4 Q484 495.2 493.4 493.6" fill="none" stroke-width="1.0" />
<ellipse cx="487.60" cy="495.60" rx="3.20" ry="1.40" fill="none" transform="rotate(-22.00 487.60 495.60)" stroke-width="0.9"/>
<path d="M493.40 493.60 L605.80 586.40" fill="none" />
<path d="M605.80 560.20 L605.80 586.40" fill="none" />
<path d="M607.40 561.40 L607.40 586.00" fill="none" stroke-width="0.9" />
<path d="M605.80 586.40 L662.20 564.60" fill="none" />
<path d="M662.20 537.60 L662.20 564.60" fill="none" />
<path d="M625.00 409.50 L625.00 461.20" fill="none" />
<path d="M625.00 461.20 L589.60 476.60" fill="none" />
<ellipse cx="390.80" cy="507.50" rx="12.98" ry="25.53" fill="#fff" transform="rotate(-20.00 390.80 507.50)"/>
<ellipse cx="391.90" cy="507.60" rx="11.54" ry="24.01" fill="none" transform="rotate(-20.00 391.90 507.60)" stroke-width="1.1"/>
<path d="M391.5 489.9 Q394.2 505.3 403.5 519.3" fill="none" stroke-width="1.2" />
<path d="M394.2 492.5 Q397.1 505.3 405.2 517" fill="none" stroke-width="1.2" />
<ellipse cx="393.90" cy="514.60" rx="4.40" ry="3.30" fill="#111" transform="rotate(-10.00 393.90 514.60)" stroke-width="1"/>
<ellipse cx="498.90" cy="437.80" rx="14.00" ry="8.00" fill="#fff"/>
<path d="M486.3 438.6 A12.6 6.4 0 0 1 511.5 438.6 A12.6 7.2 0 0 1 486.3 438.6 Z" fill="#111" stroke-width="1" />
<path d="M489.5 440.8 A9.6 3.6 0 0 1 508.5 440.8 A9.6 4.2 0 0 1 489.5 440.8 Z" fill="#fff" stroke-width="0.8" />
<path d="M491.5 441.6 A7.6 2.8 0 0 0 506.5 441.6" fill="none" stroke-width="1.6" />
<ellipse cx="242.50" cy="565.20" rx="10.57" ry="16.37" fill="#fff" transform="rotate(-20.00 242.50 565.20)" stroke-width="1.3"/>
<ellipse cx="242.50" cy="565.20" rx="8.02" ry="13.85" fill="#fff" transform="rotate(-20.00 242.50 565.20)" stroke-width="1.3"/>
<path d="M275.63 529.41 L297.64 519.84 A8.80 21.60 -23.50 0 1 314.86 559.46 L292.85 569.03 A8.80 21.60 -23.50 0 1 275.63 529.41 Z" fill="#fff" />
<path d="M0 -21.60 A8.80 21.60 0 0 1 0 21.60" transform="translate(303.87 540.69) rotate(-23.50)" fill="none" stroke-width="1.0"/>
<path d="M0 -21.60 A8.80 21.60 0 0 1 0 21.60" transform="translate(302.03 541.48) rotate(-23.50)" fill="none" stroke-width="2.2"/>
<path d="M0 -21.60 A8.80 21.60 0 0 1 0 21.60" transform="translate(299.46 542.60) rotate(-23.50)" fill="none" stroke-width="1.0"/>
<path d="M0 -21.60 A8.80 21.60 0 0 1 0 21.60" transform="translate(297.45 543.48) rotate(-23.50)" fill="none" stroke-width="2.2"/>
<path d="M0 -21.60 A8.80 21.60 0 0 1 0 21.60" transform="translate(294.70 544.67) rotate(-23.50)" fill="none" stroke-width="1.0"/>
<path d="M0 -21.60 A8.80 21.60 0 0 1 0 21.60" transform="translate(291.94 545.87) rotate(-23.50)" fill="none" stroke-width="1.1"/>
<path d="M269.61 530.61 L274.93 528.30 A9.60 22.90 -23.50 0 1 293.19 570.30 L287.87 572.61 A9.60 22.90 -23.50 0 1 269.61 530.61 Z" fill="#fff" />
<ellipse cx="274.80" cy="553.00" rx="13.70" ry="23.30" fill="#fff" transform="rotate(-23.50 274.80 553.00)"/>
<ellipse cx="278.00" cy="551.80" rx="13.70" ry="23.20" fill="none" transform="rotate(-23.50 278.00 551.80)" stroke-width="1.1"/>
<ellipse cx="274.80" cy="553.00" rx="13.70" ry="23.30" fill="#fff" transform="rotate(-23.50 274.80 553.00)"/>
<ellipse cx="271.60" cy="555.40" rx="9.60" ry="16.30" fill="#1c1c1c" transform="rotate(-23.50 271.60 555.40)" stroke-width="1"/>
<ellipse cx="270.00" cy="556.00" rx="9.40" ry="16.00" fill="none" transform="rotate(-23.50 270.00 556.00)" stroke-width="0.5"/>
<ellipse cx="267.20" cy="557.20" rx="9.60" ry="16.00" fill="#fff" transform="rotate(-23.50 267.20 557.20)"/>
<ellipse cx="264.90" cy="556.80" rx="5.90" ry="10.20" fill="none" transform="rotate(-23.50 264.90 556.80)" stroke-width="1.3"/>
<ellipse cx="331.20" cy="533.20" rx="11.57" ry="22.38" fill="#fff" transform="rotate(-20.00 331.20 533.20)" stroke-width="1.3"/>
<ellipse cx="331.20" cy="533.20" rx="8.72" ry="19.65" fill="#fff" transform="rotate(-20.00 331.20 533.20)" stroke-width="1.3"/>
<ellipse cx="357.00" cy="524.60" rx="13.18" ry="22.04" fill="#fff" transform="rotate(-20.00 357.00 524.60)" stroke-width="1.3"/>
<ellipse cx="357.00" cy="524.60" rx="10.40" ry="19.32" fill="#fff" transform="rotate(-20.00 357.00 524.60)" stroke-width="1.3"/>
<path d="M387.10 553.80 L387.10 562.00 Q393.00 566.20 398.90 562.00 L398.90 553.80 Z" fill="#111" stroke-width="1" />
<ellipse cx="393.00" cy="553.60" rx="5.80" ry="3.70" fill="#fff" stroke-width="1.3"/>
<path d="M402.40 562.90 L402.40 571.10 Q408.30 575.30 414.20 571.10 L414.20 562.90 Z" fill="#111" stroke-width="1" />
<ellipse cx="408.30" cy="562.70" rx="5.80" ry="3.70" fill="#fff" stroke-width="1.3"/>
<path d="M496.00 283.90 L518.00 295.80 L518.00 327.30 L496.00 340.30 L474.60 328.20 L474.60 297.10 Z" fill="#fff" stroke-width="2.2" />
<path d="M474.60 297.10 L496.00 307.60 L518.00 295.80" fill="none" stroke-width="2.2" />
<path d="M496.00 307.60 L496.00 340.30" fill="none" stroke-width="2.2" />
<path d="M486.60 375.00 L486.60 381.00 A10.80 3.60 0 0 0 508.20 381.00 L508.20 375.00" fill="#111" stroke-width="1" />
<path d="M486.80 377.40 A10.60 3.40 0 0 0 508.00 377.40" fill="none" stroke-width="0.7" />
<path d="M484 369.2 L484 372.6 A13.6 4.4 0 0 0 511.2 372.6 L511.2 369.2 A13.6 4.4 0 0 0 484 369.2 Z" fill="#fff" stroke-width="1.2" />
<path d="M486.2 349 L486.2 367.4 Q485 369 484 369.6 A13.6 4.4 0 0 0 511.2 369.6 Q509.6 369 508.8 367.4 L508.8 349 Z" fill="#fff" stroke-width="1.3" />
<ellipse cx="497.40" cy="348.90" rx="11.30" ry="5.30" fill="#fff"/>
<ellipse cx="497.80" cy="349.20" rx="6.20" ry="3.40" fill="none" stroke-width="1.3"/>
<path d="M491.4 356.8 L504.2 356.8 L504.2 361.8 Q498 364 491.4 361.8 Z" fill="none" stroke-width="1.1" />
<ellipse cx="497.90" cy="401.40" rx="12.80" ry="7.00" fill="#fff" stroke-width="1.3"/>
<ellipse cx="497.90" cy="401.40" rx="10.20" ry="4.92" fill="none" stroke-width="1.3"/>
<ellipse cx="497.40" cy="545.00" rx="10.00" ry="5.30" stroke="#2a2a2a" stroke-width="2.3" transform="rotate(-4 497.40 545.00)"/>
<ellipse cx="497.40" cy="545.00" rx="10.00" ry="5.30" stroke="#999" stroke-width="0.5" transform="rotate(-4 497.40 545.00)"/>
<ellipse cx="497.49" cy="552.03" rx="9.69" ry="5.17" stroke="#2a2a2a" stroke-width="2.3" transform="rotate(-4 497.40 552.03)"/>
<ellipse cx="497.49" cy="552.03" rx="9.69" ry="5.17" stroke="#999" stroke-width="0.5" transform="rotate(-4 497.40 552.03)"/>
<ellipse cx="497.57" cy="559.06" rx="9.37" ry="5.04" stroke="#2a2a2a" stroke-width="2.3" transform="rotate(-4 497.40 559.06)"/>
<ellipse cx="497.57" cy="559.06" rx="9.37" ry="5.04" stroke="#999" stroke-width="0.5" transform="rotate(-4 497.40 559.06)"/>
<ellipse cx="497.66" cy="566.09" rx="9.06" ry="4.91" stroke="#2a2a2a" stroke-width="2.3" transform="rotate(-4 497.40 566.09)"/>
<ellipse cx="497.66" cy="566.09" rx="9.06" ry="4.91" stroke="#999" stroke-width="0.5" transform="rotate(-4 497.40 566.09)"/>
<ellipse cx="497.74" cy="573.11" rx="8.74" ry="4.79" stroke="#2a2a2a" stroke-width="2.3" transform="rotate(-4 497.40 573.11)"/>
<ellipse cx="497.74" cy="573.11" rx="8.74" ry="4.79" stroke="#999" stroke-width="0.5" transform="rotate(-4 497.40 573.11)"/>
<ellipse cx="497.83" cy="580.14" rx="8.43" ry="4.66" stroke="#2a2a2a" stroke-width="2.3" transform="rotate(-4 497.40 580.14)"/>
<ellipse cx="497.83" cy="580.14" rx="8.43" ry="4.66" stroke="#999" stroke-width="0.5" transform="rotate(-4 497.40 580.14)"/>
<ellipse cx="497.91" cy="587.17" rx="8.11" ry="4.53" stroke="#2a2a2a" stroke-width="2.3" transform="rotate(-4 497.40 587.17)"/>
<ellipse cx="497.91" cy="587.17" rx="8.11" ry="4.53" stroke="#999" stroke-width="0.5" transform="rotate(-4 497.40 587.17)"/>
<ellipse cx="498.00" cy="594.20" rx="7.80" ry="4.40" stroke="#2a2a2a" stroke-width="2.3" transform="rotate(-4 497.40 594.20)"/>
<ellipse cx="498.00" cy="594.20" rx="7.80" ry="4.40" stroke="#999" stroke-width="0.5" transform="rotate(-4 497.40 594.20)"/>
<path d="M487.6 541.6 Q490 538.0 497.6 537.8 Q505.6 538.2 507.8 542.4" fill="none" stroke-width="2.0" />
<path d="M490.4 597.4 Q497 601.4 504.6 597.2" fill="none" stroke-width="1.6" />
<ellipse cx="497.50" cy="608.80" rx="4.20" ry="2.20" fill="none" stroke-width="1.7"/>
<ellipse cx="497.90" cy="618.80" rx="4.20" ry="2.20" fill="none" stroke-width="1.7"/>
<path d="M495 696 L495 706.4 Q497.2 707.6 499.4 706.4 L499.4 696 Z" fill="#fff" stroke-width="1.1" />
<path d="M483.6 690.2 Q485 695 493.6 698.6 L500.8 698.6 Q509.4 695 510.8 690.2 Z" fill="#fff" stroke-width="1.2" />
<ellipse cx="497.20" cy="690.00" rx="13.60" ry="4.60" fill="#fff" stroke-width="1.3"/>
<ellipse cx="497.20" cy="688.60" rx="10.20" ry="3.20" fill="none" stroke-width="1.0"/>
<path d="M493 636 Q493 633.4 497.4 633.2 Q501.8 633.4 501.8 636 L501.8 686.8 Q497.4 689 493 686.8 Z" fill="#fff" stroke-width="1.3" />
<path d="M493.00 637.60 A4.40 1.40 0 0 0 501.80 637.60" fill="none" stroke-width="0.9" />
<path d="M493.00 659.00 L493.00 660.60 A4.40 1.40 0 0 0 501.80 660.60 L501.80 659.00 A4.40 1.40 0 0 1 493.00 659.00 Z" fill="#111" stroke-width="0.8" />
<path d="M493.00 663.60 L493.00 664.80 A4.40 1.40 0 0 0 501.80 664.80 L501.80 663.60 A4.40 1.40 0 0 1 493.00 663.60 Z" fill="#111" stroke-width="0.8" />
<ellipse cx="497.20" cy="720.00" rx="18.90" ry="10.50" fill="#fff" stroke-width="1.2"/>
<ellipse cx="497.20" cy="720.00" rx="16.90" ry="8.90" fill="none" stroke-width="1.2"/>
<path d="M479.80 766.00 L479.80 780.60 A17.40 8.40 0 0 0 514.60 780.60 L514.60 766.00" fill="#111" stroke-width="1" />
<path d="M480.20 770.00 A17.00 8.20 0 0 0 514.20 770.00" fill="none" stroke-width="0.6" />
<path d="M480.20 773.00 A17.00 8.20 0 0 0 514.20 773.00" fill="none" stroke-width="0.6" />
<path d="M480.20 776.00 A17.00 8.20 0 0 0 514.20 776.00" fill="none" stroke-width="0.6" />
<path d="M480.20 779.00 A17.00 8.20 0 0 0 514.20 779.00" fill="none" stroke-width="0.6" />
<path d="M479.6 750 L479.6 764 A17.6 9 0 0 0 514.8 764 L514.8 750 Z" fill="#fff" stroke-width="1.3" />
<path d="M479.60 756.40 A17.60 9.00 0 0 0 514.80 756.40" fill="none" stroke-width="1.2" />
<path d="M479.60 759.60 A17.60 9.00 0 0 0 514.80 759.60" fill="none" stroke-width="1.2" />
<path d="M479.60 762.40 A17.60 9.00 0 0 0 514.80 762.40" fill="none" stroke-width="1.0" />
<ellipse cx="497.20" cy="750.00" rx="17.60" ry="9.60" fill="#fff" stroke-width="1.8"/>
<ellipse cx="497.20" cy="750.40" rx="14.60" ry="7.60" fill="none" stroke-width="1.2"/>
<path d="M484.4 753.4 A12.8 6 0 0 1 510 753.4" fill="none" stroke-width="1.1" />
<ellipse cx="497.20" cy="754.40" rx="9.60" ry="4.40" fill="none" stroke-width="1.2"/>
<path d="M490.6 754.2 L493.6 751.6 L501.6 751.6 L504 754.2" fill="none" stroke-width="1.1" />
<ellipse cx="497.20" cy="756.00" rx="5.20" ry="2.20" fill="none" stroke-width="1.0"/>
<path d="M480.90 830.60 L480.90 833.80 A17.3 7.3 0 0 0 515.50 833.80 L515.50 830.60" fill="#fff" />
<ellipse cx="498.20" cy="830.60" rx="17.30" ry="7.30" fill="#fff"/>
<ellipse cx="498.20" cy="830.60" rx="11.60" ry="4.60" fill="none" stroke-width="1.3"/>
<path d="M487.40 832.40 A11 4 0 0 1 509.00 832.40" fill="none" stroke-width="1.0" />
<path d="M484.6 893 L484.6 902 A13.8 4.4 0 0 0 512.2 902 L512.2 893 Z" fill="#fff" stroke-width="1.2" />
<path d="M484.60 896.20 A13.80 4.40 0 0 0 512.20 896.20" fill="none" stroke-width="1.9" />
<path d="M484.60 899.20 A13.80 4.40 0 0 0 512.20 899.20" fill="none" stroke-width="1.9" />
<path d="M484.60 902.20 A13.80 4.40 0 0 0 512.20 902.20" fill="none" stroke-width="1.9" />
<path d="M485.6 887 L485.6 893.4 A12.8 4.0 0 0 0 511.2 893.4 L511.2 887 Z" fill="#fff" stroke-width="1.2" />
<path d="M485.60 890.60 A12.80 4.00 0 0 0 511.20 890.60" fill="none" stroke-width="1.0" />
<path d="M481.2 882.4 L481.2 886.4 A17.2 6.2 0 0 0 515.6 886.4 L515.6 882.4 Z" fill="#fff" stroke-width="1.3" />
<path d="M481.20 884.60 A17.20 6.20 0 0 0 515.60 884.60" fill="none" stroke-width="1.0" />
<ellipse cx="498.40" cy="882.40" rx="17.20" ry="6.20" fill="#fff"/>
<ellipse cx="498.40" cy="882.00" rx="9.00" ry="3.30" fill="none" stroke-width="1.3"/>
<path d="M498.40 878.80 L498.40 885.20" fill="none" stroke-width="1.1" />
<ellipse cx="498.20" cy="968.20" rx="15.40" ry="7.10" fill="#fff" stroke-width="1.3"/>
<ellipse cx="498.20" cy="968.40" rx="11.00" ry="2.70" fill="none" stroke-width="1.2"/>
<path d="M477.6 1026.4 L477.6 1044.6 Q488 1050.4 497.4 1051.6 L499.6 1051.8 Q511 1050.2 520.8 1044.2 L520.8 1026.4 Z" fill="#fff" />
<ellipse cx="499.20" cy="1026.20" rx="21.60" ry="8.80" fill="#fff" stroke-width="1.6"/>
<ellipse cx="499.20" cy="1026.80" rx="18.80" ry="7.00" fill="none" stroke-width="1.6"/>
<path d="M482.2 1028.8 A17 5.6 0 0 1 516.2 1028.8" fill="none" stroke-width="1.5" />
<path d="M483.8 1030.8 A15.6 4.8 0 0 1 514.6 1030.8" fill="none" stroke-width="1.5" />
<path d="M481.6 1029.6 A17.8 6.6 0 0 0 516.8 1029.6" fill="none" stroke-width="1.8" />
<path d="M486 1032 A13.4 3.6 0 0 1 512.4 1032" fill="none" stroke-width="1.3" />
<path d="M497.40 1035.20 L497.40 1051.40" fill="none" stroke-width="1.1" />
<path d="M499.80 1035.20 L499.80 1051.60" fill="none" stroke-width="1.1" />
<path d="M477.6 1031.4 Q486 1035.6 497.4 1035.2 L499.8 1035.2 Q512 1034.6 520.8 1030.2" fill="none" stroke-width="1.1" />
<path d="M478.8 1087.6 L478.8 1115 Q479.6 1128 494 1136.4 L504.2 1141.6 L522 1107 L517.8 1105.4 L517.8 1087.6 Z" fill="#fff" stroke="none"/>
<path d="M478.8 1087.6 L478.8 1115 Q479.6 1128 494 1136.4 L504.6 1141.8" fill="none" />
<path d="M517.8 1087.6 L517.8 1105.6" fill="none" />
<path d="M480 1112.8 Q500 1101 517.8 1103.4" fill="none" stroke-width="1.1" />
<path d="M486.8 1126.6 Q488 1114.6 505.4 1107.4 L517.8 1105.6" fill="none" stroke-width="1.1" />
<path d="M521.89 1106.57 L535.25 1113.38 A12.00 19.50 27.00 0 1 517.55 1148.12 L504.18 1141.31 A12.00 19.50 27.00 0 1 521.89 1106.57 Z" fill="#fff" />
<path d="M0 -19.50 A12.00 19.50 0 0 0 0 19.50" transform="translate(513.75 1124.30) rotate(27.00)" fill="none" stroke-width="1.25"/>
<path d="M0 -19.50 A12.00 19.50 0 0 0 0 19.50" transform="translate(515.13 1125.01) rotate(27.00)" fill="none" stroke-width="1.25"/>
<path d="M0 -19.50 A12.00 19.50 0 0 0 0 19.50" transform="translate(516.51 1125.71) rotate(27.00)" fill="none" stroke-width="1.25"/>
<path d="M0 -19.50 A12.00 19.50 0 0 0 0 19.50" transform="translate(517.89 1126.41) rotate(27.00)" fill="none" stroke-width="1.25"/>
<path d="M0 -19.50 A12.00 19.50 0 0 0 0 19.50" transform="translate(519.27 1127.12) rotate(27.00)" fill="none" stroke-width="1.25"/>
<path d="M0 -19.50 A12.00 19.50 0 0 0 0 19.50" transform="translate(520.65 1127.82) rotate(27.00)" fill="none" stroke-width="1.25"/>
<path d="M0 -19.50 A12.00 19.50 0 0 0 0 19.50" transform="translate(522.03 1128.53) rotate(27.00)" fill="none" stroke-width="1.25"/>
<path d="M0 -19.50 A12.00 19.50 0 0 0 0 19.50" transform="translate(523.42 1129.23) rotate(27.00)" fill="none" stroke-width="1.25"/>
<path d="M0 -19.50 A12.00 19.50 0 0 0 0 19.50" transform="translate(524.80 1129.93) rotate(27.00)" fill="none" stroke-width="1.25"/>
<ellipse cx="526.40" cy="1130.75" rx="12.00" ry="19.50" fill="#fff" transform="rotate(27.00 526.40 1130.75)" stroke-width="1.7"/>
<ellipse cx="526.76" cy="1130.93" rx="9.00" ry="15.60" fill="#fff" transform="rotate(27.00 526.76 1130.93)" stroke-width="1.5"/>
<path d="M0 -13.6 A8.4 15 0 0 0 -2 13.4" transform="translate(523.37 1129.21) rotate(27)" stroke-width="1.2"/>
<ellipse cx="498.40" cy="1087.60" rx="19.60" ry="6.90" fill="#fff" stroke-width="1.4"/>
<ellipse cx="498.40" cy="1088.00" rx="16.60" ry="5.40" fill="none" stroke-width="2.6"/>
<ellipse cx="498.40" cy="1089.40" rx="13.20" ry="3.60" fill="none" stroke-width="1.4"/>
<path d="M485.6 1090.8 A12.8 3.4 0 0 0 511.2 1090.8" fill="none" stroke-width="1.8" />
<path d="M540.2 1132.4 L553.7 1126.8 L572.7 1135.2 Q578.6 1140.6 578.6 1148.4 L572 1168 L563.4 1172.8 L555.9 1173.9 L544.1 1168.3 L531.8 1153.7 L532.3 1146.6 L535.4 1137.6 Z" fill="#fff" stroke-width="1.3" />
<ellipse cx="546.4" cy="1135.2" rx="8.0" ry="4.8" transform="rotate(-26 546.4 1135.2)" stroke-width="1.1"/>
<ellipse cx="537.9" cy="1154.3" rx="5.2" ry="9.8" transform="rotate(-12 537.9 1154.3)" stroke-width="1.1"/>
<path d="M553.7 1126.8 Q559 1131.6 556.4 1136 Q547.6 1142 545.4 1149 Q543.6 1161 555.9 1173.9" fill="none" stroke-width="1.2" />
<path d="M566.7 1139.7 Q552.5 1145 551.6 1156 Q552 1166 563.2 1172.8" fill="none" stroke-width="1.2" />
<path d="M557 1133.8 Q566 1134.6 572.7 1135.2" fill="none" stroke-width="1.0" />
<path d="M572.7 1148.7 L630.5 1176.7 L600.8 1193.4 L564.3 1171.1 Q562 1158 572.7 1148.7 Z" fill="#111" stroke-width="1" />
<path d="M575.04 1149.83 Q565.27 1160.55 567.90 1173.26" stroke="#fff" stroke-width="1.9"/>
<path d="M580.67 1152.56 Q570.05 1163.10 571.84 1175.63" stroke="#fff" stroke-width="1.9"/>
<path d="M586.29 1155.28 Q574.84 1165.64 575.78 1178.00" stroke="#fff" stroke-width="1.9"/>
<path d="M591.92 1158.01 Q579.62 1168.19 579.73 1180.37" stroke="#fff" stroke-width="1.9"/>
<path d="M597.54 1160.73 Q584.40 1170.74 583.67 1182.74" stroke="#fff" stroke-width="1.9"/>
<path d="M603.17 1163.46 Q589.19 1173.28 587.61 1185.11" stroke="#fff" stroke-width="1.9"/>
<path d="M608.79 1166.18 Q593.97 1175.83 591.55 1187.48" stroke="#fff" stroke-width="1.9"/>
<path d="M614.42 1168.91 Q598.75 1178.38 595.49 1189.85" stroke="#fff" stroke-width="1.9"/>
<path d="M620.04 1171.63 Q603.54 1180.92 599.44 1192.21" stroke="#fff" stroke-width="1.9"/>
<path d="M598.6 1197.4 Q602 1190.6 612 1186.6 Q622 1182.6 626 1177.6 L630.6 1176.6" fill="none" stroke-width="1.2" />
<path d="M606.4 1193.4 Q611 1185.6 622.6 1180.6 L606.4 1193.4 Z" fill="#fff" stroke-width="0.8" />
<path d="M607.2 604.4 Q607.6 612 617 617.6 Q628 621.6 640 617.6 Q649 612.4 649.5 604.4 Z" fill="#fff" stroke-width="1.2" />
<path d="M611.6 613.4 Q628 624.0 645.6 613.4" fill="none" stroke-width="1.0" />
<path d="M614.6 616.0 Q628 623.6 642.6 616.0" fill="none" stroke-width="0.9" />
<ellipse cx="628.30" cy="604.40" rx="21.20" ry="11.50" fill="#fff"/>
<ellipse cx="628.50" cy="604.80" rx="14.30" ry="8.30" fill="none" stroke-width="1.3"/>
<path d="M614.90 607.60 A13.6 7 0 0 1 642.10 607.60" fill="none" stroke-width="1.0" />
<path d="M613.6 654 L614.6 659.8 Q628.8 668.0 645 659.8 L645.8 654 Z" fill="#fff" stroke-width="1.2" />
<path d="M610.2 639 L613.4 655.0 Q628.8 663.0 646.2 655.0 L647.6 639 Z" fill="#fff" stroke-width="1.4" />
<path d="M614.30 646.6 L614.90 657.8" fill="none" stroke-width="2.0" />
<path d="M618.20 646.6 L618.70 657.8" fill="none" stroke-width="2.2" />
<path d="M624.40 646.6 L624.70 657.8" fill="none" stroke-width="2.4" />
<path d="M633.80 646.6 L633.60 657.8" fill="none" stroke-width="2.4" />
<path d="M641.20 646.6 L640.70 657.8" fill="none" stroke-width="2.2" />
<path d="M645.20 646.6 L644.60 657.8" fill="none" stroke-width="2.0" />
<path d="M610.8 645.4 Q628.8 654.4 647.0 645.4" fill="none" stroke-width="2.6" />
<ellipse cx="628.90" cy="638.30" rx="18.80" ry="9.70" fill="#141414" stroke-width="1.5"/>
<path d="M613.2 641.4 A16.4 7.2 0 0 0 644.8 641.4" fill="none" stroke-width="0.9" stroke="#eee"/>
<path d="M611.9 684.8 L612.4 704.6 Q620 712.0 634 712.6 Q648.6 711.8 655.6 703.4 L655.7 684.8 Z" fill="#fff" stroke-width="1.3" />
<ellipse cx="633.80" cy="684.90" rx="21.90" ry="12.60" fill="#141414" stroke-width="1.2"/>
<path d="M613.6 689.6 A20.6 10.6 0 0 0 654 689.6" fill="none" stroke-width="0.7" stroke="#999"/>
<ellipse cx="634.30" cy="683.60" rx="18.00" ry="8.90" fill="#fff" stroke-width="1.0"/>
<path d="M612.10 687.60 A21.70 12.40 0 0 0 655.50 687.60" fill="none" stroke-width="1.0" />
<path d="M613.4 701.2 L625.6 706.4 L625.8 710.2" fill="none" stroke-width="1.2" />
<path d="M615.6 705.6 L623 708.4" fill="none" stroke-width="1.0" />
<ellipse cx="637.80" cy="402.10" rx="12.80" ry="22.49" fill="#fff" transform="rotate(-23.00 637.80 402.10)" stroke-width="1.3"/>
<ellipse cx="637.80" cy="402.10" rx="9.98" ry="19.76" fill="#fff" transform="rotate(-23.00 637.80 402.10)" stroke-width="1.3"/>
<ellipse cx="662.60" cy="391.80" rx="13.60" ry="22.07" fill="#fff" transform="rotate(-23.00 662.60 391.80)" stroke-width="1.3"/>
<ellipse cx="662.60" cy="391.80" rx="10.82" ry="19.34" fill="#fff" transform="rotate(-23.00 662.60 391.80)" stroke-width="1.3"/>
<ellipse cx="724.60" cy="365.20" rx="13.40" ry="22.80" fill="#111" transform="rotate(-21.00 724.60 365.20)" stroke-width="1"/>
<ellipse cx="721.40" cy="366.40" rx="13.40" ry="22.80" fill="#fff" transform="rotate(-21.00 721.40 366.40)"/>
<ellipse cx="719.40" cy="367.20" rx="13.40" ry="22.80" fill="#fff" transform="rotate(-21.00 719.40 367.20)"/>
<path d="M702.58 356.97 L710.61 353.89 A7.60 15.60 -21.00 0 1 721.79 383.01 L713.76 386.10 A7.60 15.60 -21.00 0 1 702.58 356.97 Z" fill="#fff" />
<path d="M0 -15.60 A7.60 15.60 0 0 1 0 15.60" transform="translate(712.84 369.74) rotate(-21.00)" fill="none" stroke-width="2.6"/>
<path d="M681.47 357.79 L702.57 349.69 A10.20 22.40 -21.00 0 1 718.63 391.51 L697.53 399.61 A10.20 22.40 -21.00 0 1 681.47 357.79 Z" fill="#fff" />
<path d="M0 -22.40 A10.20 22.40 0 0 1 0 22.40" transform="translate(692.11 377.70) rotate(-21.00)" fill="none" stroke-width="1.0"/>
<path d="M0 -22.40 A10.20 22.40 0 0 1 0 22.40" transform="translate(694.54 376.76) rotate(-21.00)" fill="none" stroke-width="1.0"/>
<path d="M0 -22.40 A10.20 22.40 0 0 1 0 22.40" transform="translate(697.16 375.76) rotate(-21.00)" fill="none" stroke-width="1.0"/>
<path d="M0 -22.40 A10.20 22.40 0 0 1 0 22.40" transform="translate(699.77 374.76) rotate(-21.00)" fill="none" stroke-width="2.2"/>
<path d="M0 -22.40 A10.20 22.40 0 0 1 0 22.40" transform="translate(702.20 373.83) rotate(-21.00)" fill="none" stroke-width="1.0"/>
<path d="M0 -22.40 A10.20 22.40 0 0 1 0 22.40" transform="translate(704.62 372.89) rotate(-21.00)" fill="none" stroke-width="2.2"/>
<path d="M0 -22.40 A10.20 22.40 0 0 1 0 22.40" transform="translate(707.24 371.89) rotate(-21.00)" fill="none" stroke-width="1.0"/>
<ellipse cx="689.50" cy="378.70" rx="13.40" ry="22.40" fill="#fff" transform="rotate(-21.00 689.50 378.70)"/>
<path d="M681.40 372.60 L687.20 367.40 L695.60 374.40 L695.80 386.20 L689.80 389.60 L681.60 381.60 Z" fill="none" stroke-width="1.3" />
<path d="M682.00 380.80 L695.60 375.80" fill="none" stroke-width="1.1" />
<ellipse cx="746.10" cy="355.20" rx="9.56" ry="16.90" fill="#fff" transform="rotate(-23.00 746.10 355.20)" stroke-width="1.3"/>
<ellipse cx="746.10" cy="355.20" rx="6.93" ry="14.37" fill="#fff" transform="rotate(-23.00 746.10 355.20)" stroke-width="1.3"/>
<path d="M996.2 686 L996.2 706.4 Q1015 714.6 1034.2 706 L1034.2 686 Z" fill="#fff" stroke-width="1.3" />
<path d="M996.2 696.6 Q1015 704.8 1034.2 696.2" fill="none" stroke-width="1.2" />
<path d="M996.2 700.0 Q1015 708.2 1034.2 699.6" fill="none" stroke-width="1.2" />
<path d="M996.2 703.4 Q1015 711.6 1034.2 703.0" fill="none" stroke-width="1.2" />
<path d="M996.2 706.4 Q1015 714.6 1034.2 706.0" fill="none" stroke-width="1.2" />
<path d="M982.50 337.60 L1021.60 329.60 L1047.60 345.20 L1048.20 689.00 L1008.60 698.40 L982.60 683.60 Z" fill="#fff" stroke-width="1.6" />
<path d="M982.50 337.60 L1008.40 352.60 L1047.60 345.20" fill="none" stroke-width="1.4" />
<path d="M983.6 339.8 L1008.2 354.6 L1046.8 347.4" fill="none" stroke-width="1.1" />
<path d="M1008.40 353.60 L1008.60 698.40" fill="none" stroke-width="1.6" />
<path d="M1010.20 354.40 L1010.40 697.60" fill="none" stroke-width="1.0" />
<path d="M1012.30 358.40 L1043.30 352.60 L1043.30 490.80 L1012.30 497.60 Z" fill="none" stroke-width="1.6" />
<rect x="1015.40" y="371.25" width="5.2" height="5.3" rx="1.3" fill="#1a1a1a" stroke="none" transform="skewY(-11)" transform-origin="1018.00 373.90"/>
<rect x="1017.20" y="373.10" width="1.6" height="1.6" fill="#777" stroke="none"/>
<rect x="1022.40" y="369.85" width="5.2" height="5.3" rx="1.3" fill="#1a1a1a" stroke="none" transform="skewY(-11)" transform-origin="1025.00 372.50"/>
<rect x="1024.20" y="371.70" width="1.6" height="1.6" fill="#777" stroke="none"/>
<rect x="1029.40" y="368.45" width="5.2" height="5.3" rx="1.3" fill="#1a1a1a" stroke="none" transform="skewY(-11)" transform-origin="1032.00 371.10"/>
<rect x="1031.20" y="370.30" width="1.6" height="1.6" fill="#777" stroke="none"/>
<rect x="1036.40" y="367.05" width="5.2" height="5.3" rx="1.3" fill="#1a1a1a" stroke="none" transform="skewY(-11)" transform-origin="1039.00 369.70"/>
<rect x="1038.20" y="368.90" width="1.6" height="1.6" fill="#777" stroke="none"/>
<rect x="1015.40" y="382.58" width="5.2" height="5.3" rx="1.3" fill="#1a1a1a" stroke="none" transform="skewY(-11)" transform-origin="1018.00 385.23"/>
<rect x="1017.20" y="384.43" width="1.6" height="1.6" fill="#777" stroke="none"/>
<rect x="1022.40" y="381.18" width="5.2" height="5.3" rx="1.3" fill="#1a1a1a" stroke="none" transform="skewY(-11)" transform-origin="1025.00 383.83"/>
<rect x="1024.20" y="383.03" width="1.6" height="1.6" fill="#777" stroke="none"/>
<rect x="1029.40" y="379.78" width="5.2" height="5.3" rx="1.3" fill="#1a1a1a" stroke="none" transform="skewY(-11)" transform-origin="1032.00 382.43"/>
<rect x="1031.20" y="381.63" width="1.6" height="1.6" fill="#777" stroke="none"/>
<rect x="1036.40" y="378.38" width="5.2" height="5.3" rx="1.3" fill="#1a1a1a" stroke="none" transform="skewY(-11)" transform-origin="1039.00 381.03"/>
<rect x="1038.20" y="380.23" width="1.6" height="1.6" fill="#777" stroke="none"/>
<rect x="1015.40" y="393.91" width="5.2" height="5.3" rx="1.3" fill="#1a1a1a" stroke="none" transform="skewY(-11)" transform-origin="1018.00 396.56"/>
<rect x="1017.20" y="395.76" width="1.6" height="1.6" fill="#777" stroke="none"/>
<rect x="1022.40" y="392.51" width="5.2" height="5.3" rx="1.3" fill="#1a1a1a" stroke="none" transform="skewY(-11)" transform-origin="1025.00 395.16"/>
<rect x="1024.20" y="394.36" width="1.6" height="1.6" fill="#777" stroke="none"/>
<rect x="1029.40" y="391.11" width="5.2" height="5.3" rx="1.3" fill="#1a1a1a" stroke="none" transform="skewY(-11)" transform-origin="1032.00 393.76"/>
<rect x="1031.20" y="392.96" width="1.6" height="1.6" fill="#777" stroke="none"/>
<rect x="1036.40" y="389.71" width="5.2" height="5.3" rx="1.3" fill="#1a1a1a" stroke="none" transform="skewY(-11)" transform-origin="1039.00 392.36"/>
<rect x="1038.20" y="391.56" width="1.6" height="1.6" fill="#777" stroke="none"/>
<rect x="1015.40" y="405.24" width="5.2" height="5.3" rx="1.3" fill="#1a1a1a" stroke="none" transform="skewY(-11)" transform-origin="1018.00 407.89"/>
<rect x="1017.20" y="407.09" width="1.6" height="1.6" fill="#777" stroke="none"/>
<rect x="1022.40" y="403.84" width="5.2" height="5.3" rx="1.3" fill="#1a1a1a" stroke="none" transform="skewY(-11)" transform-origin="1025.00 406.49"/>
<rect x="1024.20" y="405.69" width="1.6" height="1.6" fill="#777" stroke="none"/>
<rect x="1029.40" y="402.44" width="5.2" height="5.3" rx="1.3" fill="#1a1a1a" stroke="none" transform="skewY(-11)" transform-origin="1032.00 405.09"/>
<rect x="1031.20" y="404.29" width="1.6" height="1.6" fill="#777" stroke="none"/>
<rect x="1036.40" y="401.04" width="5.2" height="5.3" rx="1.3" fill="#1a1a1a" stroke="none" transform="skewY(-11)" transform-origin="1039.00 403.69"/>
<rect x="1038.20" y="402.89" width="1.6" height="1.6" fill="#777" stroke="none"/>
<rect x="1015.40" y="416.57" width="5.2" height="5.3" rx="1.3" fill="#1a1a1a" stroke="none" transform="skewY(-11)" transform-origin="1018.00 419.22"/>
<rect x="1017.20" y="418.42" width="1.6" height="1.6" fill="#777" stroke="none"/>
<rect x="1022.40" y="415.17" width="5.2" height="5.3" rx="1.3" fill="#1a1a1a" stroke="none" transform="skewY(-11)" transform-origin="1025.00 417.82"/>
<rect x="1024.20" y="417.02" width="1.6" height="1.6" fill="#777" stroke="none"/>
<rect x="1029.40" y="413.77" width="5.2" height="5.3" rx="1.3" fill="#1a1a1a" stroke="none" transform="skewY(-11)" transform-origin="1032.00 416.42"/>
<rect x="1031.20" y="415.62" width="1.6" height="1.6" fill="#777" stroke="none"/>
<rect x="1036.40" y="412.37" width="5.2" height="5.3" rx="1.3" fill="#1a1a1a" stroke="none" transform="skewY(-11)" transform-origin="1039.00 415.02"/>
<rect x="1038.20" y="414.22" width="1.6" height="1.6" fill="#777" stroke="none"/>
<rect x="1015.40" y="427.90" width="5.2" height="5.3" rx="1.3" fill="#1a1a1a" stroke="none" transform="skewY(-11)" transform-origin="1018.00 430.55"/>
<rect x="1017.20" y="429.75" width="1.6" height="1.6" fill="#777" stroke="none"/>
<rect x="1022.40" y="426.50" width="5.2" height="5.3" rx="1.3" fill="#1a1a1a" stroke="none" transform="skewY(-11)" transform-origin="1025.00 429.15"/>
<rect x="1024.20" y="428.35" width="1.6" height="1.6" fill="#777" stroke="none"/>
<rect x="1029.40" y="425.10" width="5.2" height="5.3" rx="1.3" fill="#1a1a1a" stroke="none" transform="skewY(-11)" transform-origin="1032.00 427.75"/>
<rect x="1031.20" y="426.95" width="1.6" height="1.6" fill="#777" stroke="none"/>
<rect x="1036.40" y="423.70" width="5.2" height="5.3" rx="1.3" fill="#1a1a1a" stroke="none" transform="skewY(-11)" transform-origin="1039.00 426.35"/>
<rect x="1038.20" y="425.55" width="1.6" height="1.6" fill="#777" stroke="none"/>
<rect x="1015.40" y="439.23" width="5.2" height="5.3" rx="1.3" fill="#1a1a1a" stroke="none" transform="skewY(-11)" transform-origin="1018.00 441.88"/>
<rect x="1017.20" y="441.08" width="1.6" height="1.6" fill="#777" stroke="none"/>
<rect x="1022.40" y="437.83" width="5.2" height="5.3" rx="1.3" fill="#1a1a1a" stroke="none" transform="skewY(-11)" transform-origin="1025.00 440.48"/>
<rect x="1024.20" y="439.68" width="1.6" height="1.6" fill="#777" stroke="none"/>
<rect x="1029.40" y="436.43" width="5.2" height="5.3" rx="1.3" fill="#1a1a1a" stroke="none" transform="skewY(-11)" transform-origin="1032.00 439.08"/>
<rect x="1031.20" y="438.28" width="1.6" height="1.6" fill="#777" stroke="none"/>
<rect x="1036.40" y="435.03" width="5.2" height="5.3" rx="1.3" fill="#1a1a1a" stroke="none" transform="skewY(-11)" transform-origin="1039.00 437.68"/>
<rect x="1038.20" y="436.88" width="1.6" height="1.6" fill="#777" stroke="none"/>
<rect x="1015.40" y="450.56" width="5.2" height="5.3" rx="1.3" fill="#1a1a1a" stroke="none" transform="skewY(-11)" transform-origin="1018.00 453.21"/>
<rect x="1017.20" y="452.41" width="1.6" height="1.6" fill="#777" stroke="none"/>
<rect x="1022.40" y="449.16" width="5.2" height="5.3" rx="1.3" fill="#1a1a1a" stroke="none" transform="skewY(-11)" transform-origin="1025.00 451.81"/>
<rect x="1024.20" y="451.01" width="1.6" height="1.6" fill="#777" stroke="none"/>
<rect x="1029.40" y="447.76" width="5.2" height="5.3" rx="1.3" fill="#1a1a1a" stroke="none" transform="skewY(-11)" transform-origin="1032.00 450.41"/>
<rect x="1031.20" y="449.61" width="1.6" height="1.6" fill="#777" stroke="none"/>
<rect x="1036.40" y="446.36" width="5.2" height="5.3" rx="1.3" fill="#1a1a1a" stroke="none" transform="skewY(-11)" transform-origin="1039.00 449.01"/>
<rect x="1038.20" y="448.21" width="1.6" height="1.6" fill="#777" stroke="none"/>
<rect x="1015.40" y="461.89" width="5.2" height="5.3" rx="1.3" fill="#1a1a1a" stroke="none" transform="skewY(-11)" transform-origin="1018.00 464.54"/>
<rect x="1017.20" y="463.74" width="1.6" height="1.6" fill="#777" stroke="none"/>
<rect x="1022.40" y="460.49" width="5.2" height="5.3" rx="1.3" fill="#1a1a1a" stroke="none" transform="skewY(-11)" transform-origin="1025.00 463.14"/>
<rect x="1024.20" y="462.34" width="1.6" height="1.6" fill="#777" stroke="none"/>
<rect x="1029.40" y="459.09" width="5.2" height="5.3" rx="1.3" fill="#1a1a1a" stroke="none" transform="skewY(-11)" transform-origin="1032.00 461.74"/>
<rect x="1031.20" y="460.94" width="1.6" height="1.6" fill="#777" stroke="none"/>
<rect x="1036.40" y="457.69" width="5.2" height="5.3" rx="1.3" fill="#1a1a1a" stroke="none" transform="skewY(-11)" transform-origin="1039.00 460.34"/>
<rect x="1038.20" y="459.54" width="1.6" height="1.6" fill="#777" stroke="none"/>
<rect x="1015.40" y="473.22" width="5.2" height="5.3" rx="1.3" fill="#1a1a1a" stroke="none" transform="skewY(-11)" transform-origin="1018.00 475.87"/>
<rect x="1017.20" y="475.07" width="1.6" height="1.6" fill="#777" stroke="none"/>
<rect x="1022.40" y="471.82" width="5.2" height="5.3" rx="1.3" fill="#1a1a1a" stroke="none" transform="skewY(-11)" transform-origin="1025.00 474.47"/>
<rect x="1024.20" y="473.67" width="1.6" height="1.6" fill="#777" stroke="none"/>
<rect x="1029.40" y="470.42" width="5.2" height="5.3" rx="1.3" fill="#1a1a1a" stroke="none" transform="skewY(-11)" transform-origin="1032.00 473.07"/>
<rect x="1031.20" y="472.27" width="1.6" height="1.6" fill="#777" stroke="none"/>
<rect x="1036.40" y="469.02" width="5.2" height="5.3" rx="1.3" fill="#1a1a1a" stroke="none" transform="skewY(-11)" transform-origin="1039.00 471.67"/>
<rect x="1038.20" y="470.87" width="1.6" height="1.6" fill="#777" stroke="none"/>
<path d="M1002 846 L1002 931 L1029.5 931 L1029.5 846 Z" fill="#fff" stroke-width="0.1" />
<path d="M1002 853.40 Q1001.4 850.00 1004 849.80 Q1015.6 854.40 1027.6 849.60 Q1030 850.00 1029.5 853.40 Q1029.8 857.00 1027.4 856.80 Q1015.6 861.60 1004.4 857.00 Q1001.6 856.80 1002 853.40 Z" fill="#fff" stroke-width="1.2" />
<path d="M1005 855.00 Q1015.6 859.40 1026.6 854.80" fill="none" stroke-width="2.2" />
<path d="M1002 861.65 Q1001.4 858.25 1004 858.05 Q1015.6 862.65 1027.6 857.85 Q1030 858.25 1029.5 861.65 Q1029.8 865.25 1027.4 865.05 Q1015.6 869.85 1004.4 865.25 Q1001.6 865.05 1002 861.65 Z" fill="#fff" stroke-width="1.2" />
<path d="M1005 863.25 Q1015.6 867.65 1026.6 863.05" fill="none" stroke-width="2.2" />
<path d="M1002 869.90 Q1001.4 866.50 1004 866.30 Q1015.6 870.90 1027.6 866.10 Q1030 866.50 1029.5 869.90 Q1029.8 873.50 1027.4 873.30 Q1015.6 878.10 1004.4 873.50 Q1001.6 873.30 1002 869.90 Z" fill="#fff" stroke-width="1.2" />
<path d="M1005 871.50 Q1015.6 875.90 1026.6 871.30" fill="none" stroke-width="2.2" />
<path d="M1002 878.15 Q1001.4 874.75 1004 874.55 Q1015.6 879.15 1027.6 874.35 Q1030 874.75 1029.5 878.15 Q1029.8 881.75 1027.4 881.55 Q1015.6 886.35 1004.4 881.75 Q1001.6 881.55 1002 878.15 Z" fill="#fff" stroke-width="1.2" />
<path d="M1005 879.75 Q1015.6 884.15 1026.6 879.55" fill="none" stroke-width="2.2" />
<path d="M1002 886.40 Q1001.4 883.00 1004 882.80 Q1015.6 887.40 1027.6 882.60 Q1030 883.00 1029.5 886.40 Q1029.8 890.00 1027.4 889.80 Q1015.6 894.60 1004.4 890.00 Q1001.6 889.80 1002 886.40 Z" fill="#fff" stroke-width="1.2" />
<path d="M1005 888.00 Q1015.6 892.40 1026.6 887.80" fill="none" stroke-width="2.2" />
<path d="M1002 894.65 Q1001.4 891.25 1004 891.05 Q1015.6 895.65 1027.6 890.85 Q1030 891.25 1029.5 894.65 Q1029.8 898.25 1027.4 898.05 Q1015.6 902.85 1004.4 898.25 Q1001.6 898.05 1002 894.65 Z" fill="#fff" stroke-width="1.2" />
<path d="M1005 896.25 Q1015.6 900.65 1026.6 896.05" fill="none" stroke-width="2.2" />
<path d="M1002 902.90 Q1001.4 899.50 1004 899.30 Q1015.6 903.90 1027.6 899.10 Q1030 899.50 1029.5 902.90 Q1029.8 906.50 1027.4 906.30 Q1015.6 911.10 1004.4 906.50 Q1001.6 906.30 1002 902.90 Z" fill="#fff" stroke-width="1.2" />
<path d="M1005 904.50 Q1015.6 908.90 1026.6 904.30" fill="none" stroke-width="2.2" />
<path d="M1002 911.15 Q1001.4 907.75 1004 907.55 Q1015.6 912.15 1027.6 907.35 Q1030 907.75 1029.5 911.15 Q1029.8 914.75 1027.4 914.55 Q1015.6 919.35 1004.4 914.75 Q1001.6 914.55 1002 911.15 Z" fill="#fff" stroke-width="1.2" />
<path d="M1005 912.75 Q1015.6 917.15 1026.6 912.55" fill="none" stroke-width="2.2" />
<path d="M1002 919.40 Q1001.4 916.00 1004 915.80 Q1015.6 920.40 1027.6 915.60 Q1030 916.00 1029.5 919.40 Q1029.8 923.00 1027.4 922.80 Q1015.6 927.60 1004.4 923.00 Q1001.6 922.80 1002 919.40 Z" fill="#fff" stroke-width="1.2" />
<path d="M1005 921.00 Q1015.6 925.40 1026.6 920.80" fill="none" stroke-width="2.2" />
<path d="M1002 927.65 Q1001.4 924.25 1004 924.05 Q1015.6 928.65 1027.6 923.85 Q1030 924.25 1029.5 927.65 Q1029.8 931.25 1027.4 931.05 Q1015.6 935.85 1004.4 931.25 Q1001.6 931.05 1002 927.65 Z" fill="#fff" stroke-width="1.2" />
<path d="M1005 929.25 Q1015.6 933.65 1026.6 929.05" fill="none" stroke-width="2.2" />
<path d="M998.6 932.4 Q1004 929.6 1008 931.4 Q1014 934.4 1022 932.6 Q1027 931.6 1030.6 933.4" fill="none" stroke-width="1.6" />
<path d="M996.2 826 L996.8 846.8 Q1015 856.0 1035 845.8 L1035.2 826 Z" fill="#fff" stroke-width="1.3" />
<path d="M1019.6 850.4 L1019.6 846.6 L1027.6 845.4 L1027.6 849" fill="none" stroke-width="1.0" />
<path d="M994.4 791.8 L996 824 Q1015 832.6 1035.4 824 L1036.2 791.8 Z" fill="#fff" stroke-width="1.3" />
<path d="M996 824.4 Q1015 833 1035.4 824.4" fill="none" stroke-width="1.3" />
<path d="M996.2 827.6 Q1015 836 1035.2 827.6" fill="none" stroke-width="1.3" />
<path d="M996.40 819.60 L998.40 817.60" fill="none" stroke-width="1" />
<ellipse cx="1015.30" cy="791.80" rx="21.00" ry="7.60" fill="#fff" stroke-width="1.6"/>
<ellipse cx="1015.30" cy="792.60" rx="18.00" ry="5.80" fill="none" stroke-width="1.1"/>
<path d="M999 794.6 A16.4 4.6 0 0 1 1031.6 794.6" fill="none" stroke-width="1.0" />
<path d="M1000.6 796.4 A15 4 0 0 1 1030 796.4" fill="none" stroke-width="1.0" />
<path d="M998.6 795 A17 5.4 0 0 0 1032 795" fill="none" stroke-width="1.3" />
<path d="M1041.73 981.17 L1052.64 980.18 L1051.65 983.65 L1040.73 1035.24 L1030.32 1039.21 L1027.34 1035.24 L1038.25 979.68 Z" fill="#fff" stroke-width="1.4" />
<path d="M953.43 962.32 L1008.99 947.44 L1052.64 980.18 L1041.73 981.47 L1024.37 969.76 L1022.88 987.42 L1014.94 989.60 Z" fill="#fff" stroke-width="1.5" />
<path d="M954.52 960.44 L1016.03 987.72" fill="none" stroke-width="1.0" />
<path d="M 974.76 956.67 L 979.23 959.44 Q 979.72 969.76 998.57 975.91 L 999.37 976.71 Q 1010.48 983.65 1022.88 987.42" fill="none" stroke-width="1.3" />
<path d="M 977.74 957.86 L 981.90 960.44 Q 982.70 967.78 991.63 972.24" fill="none" stroke-width="1.0" />
<path d="M 991.63 953.19 L 994.60 957.06 Q 1008.49 954.88 1018.91 962.32 Q 1024.37 966.29 1024.86 969.76" fill="none" stroke-width="1.3" />
<path d="M 994.60 957.06 Q 996.59 958.85 1000.56 958.85 Q 1013.45 959.84 1023.37 968.77" fill="none" stroke-width="1.0" />
<path d="M984.19 955.08 L984.68 966.59" fill="none" stroke-width="1.0" />
<path d="M990.14 953.89 L990.63 969.76" fill="none" stroke-width="1.0" />
<path d="M994.60 957.36 L994.60 972.74" fill="none" stroke-width="1.0" />
<path d="M979.23 959.44 L979.72 962.82" fill="none" stroke-width="1.0" />
<path d="M 1024.86 969.76 Q 1034.29 969.76 1041.73 981.47" fill="none" stroke-width="1.3" />
<path d="M 1025.85 972.24 Q 1034.29 972.74 1038.25 979.68" fill="none" stroke-width="1.0" />
<path d="M1041.73 981.47 L1044.21 983.65 L1051.65 983.65" fill="none" stroke-width="1.0" />
<path d="M953.43 962.32 L1014.94 989.60 L997.08 1048.13 L953.43 1040.20 Z" fill="#fff" stroke-width="1.6" />
<path d="M1014.94 989.60 L1022.88 987.42 L1008.49 1044.66 L997.08 1048.13 Z" fill="#fff" stroke-width="1.4" />
<path d="M1012.16 991.59 L994.40 1046.94" fill="none" stroke-width="1.0" />
<path d="M1022.88 987.62 L1021.88 1029.78" fill="none" stroke-width="1.2" />
<path d="M1024.86 969.76 L1023.87 1029.78" fill="none" stroke-width="1.2" />
<path d="M1013.45 1029.29 L1028.33 1033.75" fill="none" stroke-width="1.2" />
<path d="M1012.26 1032.76 L1029.33 1038.21" fill="none" stroke-width="1.2" />
<path d="M1014.44 1030.77 L1027.84 1035.24" fill="none" stroke-width="1.0" />
<path d="M1013.45 1029.29 L1012.26 1032.76" fill="none" stroke-width="1.0" />
<path d="M1041.73 981.67 L1029.33 1038.21" fill="none" stroke-width="1.3" />
<path d="M1044.21 983.65 L1031.51 1037.72" fill="none" stroke-width="1.0" />
<path d="M1038.25 979.68 L1027.84 1035.24" fill="none" stroke-width="1.0" />
<path d="M305.80 231.40 L211.00 304.00" fill="none" stroke-width="1.3" />
<path d="M175.00 176.20 L129.00 278.40" fill="none" stroke-width="1.3" />
<path d="M39.30 166.20 L99.70 259.60" fill="none" stroke-width="1.3" />
<path d="M54.90 354.80 L174.00 372.60" fill="none" stroke-width="1.3" />
<path d="M50.30 426.10 L171.00 408.00" fill="none" stroke-width="1.3" />
<path d="M50.30 489.10 L162.50 482.50" fill="none" stroke-width="1.3" />
<path d="M39.20 581.70 L146.00 597.50" fill="none" stroke-width="1.3" />
<path d="M33.00 704.70 L132.00 747.00" fill="none" stroke-width="1.3" />
<path d="M24.90 810.90 L152.50 798.80" fill="none" stroke-width="1.3" />
<path d="M26.20 861.50 L155.50 840.80" fill="none" stroke-width="1.3" />
<path d="M30.40 942.50 L156.20 928.80" fill="none" stroke-width="1.3" />
<path d="M53.80 1032.80 L144.20 1008.00" fill="none" stroke-width="1.3" />
<path d="M53.80 1032.80 L138.20 1068.00" fill="none" stroke-width="1.3" />
<path d="M32.00 1121.20 L140.80 1123.80" fill="none" stroke-width="1.3" />
<path d="M256.30 656.10 L246.80 580.50" fill="none" stroke-width="1.3" />
<path d="M310.40 640.50 L296.80 561.80" fill="none" stroke-width="1.3" />
<path d="M364.80 610.90 L340.80 553.80" fill="none" stroke-width="1.3" />
<path d="M364.80 610.90 L365.80 543.80" fill="none" stroke-width="1.3" />
<path d="M440.60 614.60 L392.50 564.20" fill="none" stroke-width="1.3" />
<path d="M440.60 614.60 L409.20 572.50" fill="none" stroke-width="1.3" />
<path d="M339.40 387.20 L412.50 462.50" fill="none" stroke-width="1.3" />
<path d="M416.20 248.30 L494.40 293.30" fill="none" stroke-width="1.3" />
<path d="M414.30 320.70 L498.20 349.80" fill="none" stroke-width="1.3" />
<path d="M415.60 381.30 L486.50 400.90" fill="none" stroke-width="1.3" />
<path d="M568.00 612.60 L506.20 584.50" fill="none" stroke-width="1.3" />
<path d="M550.40 658.40 L501.20 608.90" fill="none" stroke-width="1.3" />
<path d="M550.40 658.40 L501.20 618.80" fill="none" stroke-width="1.3" />
<path d="M575.40 730.50 L498.80 678.20" fill="none" stroke-width="1.3" />
<path d="M576.60 795.00 L513.00 727.00" fill="none" stroke-width="1.3" />
<path d="M569.30 853.40 L500.00 782.50" fill="none" stroke-width="1.3" />
<path d="M429.20 855.50 L482.00 835.80" fill="none" stroke-width="1.3" />
<path d="M429.20 912.50 L483.80 893.20" fill="none" stroke-width="1.3" />
<path d="M429.20 991.00 L484.50 970.00" fill="none" stroke-width="1.3" />
<path d="M429.20 1058.70 L482.50 1040.00" fill="none" stroke-width="1.3" />
<path d="M429.20 1123.00 L484.50 1103.00" fill="none" stroke-width="1.3" />
<path d="M721.50 718.70 L648.20 701.50" fill="none" stroke-width="1.3" />
<path d="M729.10 656.10 L646.40 650.20" fill="none" stroke-width="1.3" />
<path d="M721.10 592.90 L645.20 602.00" fill="none" stroke-width="1.3" />
<path d="M906.00 228.60 L838.80 204.50" fill="none" stroke-width="1.3" />
<path d="M1134.10 606.00 L1039.40 571.50" fill="none" stroke-width="1.3" />
<path d="M1134.10 871.20 L1035.10 835.50" fill="none" stroke-width="1.3" />
<path d="M1134.10 1049.40 L1042.00 1016.00" fill="none" stroke-width="1.3" />
<circle cx="305.80" cy="231.40" r="22.80" fill="#fff" stroke-width="1.35"/>
<circle cx="175.00" cy="176.20" r="22.80" fill="#fff" stroke-width="1.35"/>
<circle cx="39.30" cy="166.20" r="22.80" fill="#fff" stroke-width="1.35"/>
<circle cx="54.90" cy="354.80" r="22.80" fill="#fff" stroke-width="1.35"/>
<circle cx="50.30" cy="426.10" r="22.80" fill="#fff" stroke-width="1.35"/>
<circle cx="50.30" cy="489.10" r="22.80" fill="#fff" stroke-width="1.35"/>
<circle cx="39.20" cy="581.70" r="22.80" fill="#fff" stroke-width="1.35"/>
<circle cx="33.00" cy="704.70" r="22.80" fill="#fff" stroke-width="1.35"/>
<circle cx="24.90" cy="810.90" r="22.80" fill="#fff" stroke-width="1.35"/>
<circle cx="26.20" cy="861.50" r="22.80" fill="#fff" stroke-width="1.35"/>
<circle cx="30.40" cy="942.50" r="22.80" fill="#fff" stroke-width="1.35"/>
<circle cx="31.20" cy="1032.60" r="22.80" fill="#fff" stroke-width="1.35"/>
<circle cx="32.00" cy="1121.20" r="22.80" fill="#fff" stroke-width="1.35"/>
<circle cx="256.30" cy="656.10" r="22.80" fill="#fff" stroke-width="1.35"/>
<circle cx="310.40" cy="640.50" r="22.80" fill="#fff" stroke-width="1.35"/>
<circle cx="369.30" cy="633.30" r="22.80" fill="#fff" stroke-width="1.35"/>
<circle cx="446.70" cy="636.60" r="22.80" fill="#fff" stroke-width="1.35"/>
<circle cx="339.40" cy="387.20" r="22.80" fill="#fff" stroke-width="1.35"/>
<circle cx="416.20" cy="248.30" r="22.80" fill="#fff" stroke-width="1.35"/>
<circle cx="414.30" cy="320.70" r="22.80" fill="#fff" stroke-width="1.35"/>
<circle cx="415.60" cy="381.30" r="22.80" fill="#fff" stroke-width="1.35"/>
<circle cx="568.00" cy="612.60" r="22.80" fill="#fff" stroke-width="1.35"/>
<circle cx="570.00" cy="669.80" r="22.80" fill="#fff" stroke-width="1.35"/>
<circle cx="575.40" cy="730.50" r="22.80" fill="#fff" stroke-width="1.35"/>
<circle cx="576.60" cy="795.00" r="22.80" fill="#fff" stroke-width="1.35"/>
<circle cx="569.30" cy="853.40" r="22.80" fill="#fff" stroke-width="1.35"/>
<circle cx="429.20" cy="855.50" r="22.80" fill="#fff" stroke-width="1.35"/>
<circle cx="429.20" cy="912.50" r="22.80" fill="#fff" stroke-width="1.35"/>
<circle cx="429.20" cy="991.00" r="22.80" fill="#fff" stroke-width="1.35"/>
<circle cx="429.20" cy="1058.70" r="22.80" fill="#fff" stroke-width="1.35"/>
<circle cx="429.20" cy="1123.00" r="22.80" fill="#fff" stroke-width="1.35"/>
<circle cx="721.50" cy="718.70" r="22.80" fill="#fff" stroke-width="1.35"/>
<circle cx="729.10" cy="656.10" r="22.80" fill="#fff" stroke-width="1.35"/>
<circle cx="721.10" cy="592.90" r="22.80" fill="#fff" stroke-width="1.35"/>
<circle cx="906.00" cy="228.60" r="22.80" fill="#fff" stroke-width="1.35"/>
<circle cx="1134.10" cy="606.00" r="22.80" fill="#fff" stroke-width="1.35"/>
<circle cx="1134.10" cy="871.20" r="22.80" fill="#fff" stroke-width="1.35"/>
<circle cx="1134.10" cy="1049.40" r="22.80" fill="#fff" stroke-width="1.35"/>
</g>
<g style="opacity:0.999">
<text transform="translate(305.70 239.50) scale(0.975 1)">1</text>
<text transform="translate(174.90 184.30) scale(0.975 1)">2</text>
<text transform="translate(39.20 174.30) scale(0.975 1)">3</text>
<text transform="translate(54.80 362.90) scale(0.975 1)">4</text>
<text transform="translate(50.20 434.20) scale(0.975 1)">5</text>
<text transform="translate(50.20 497.20) scale(0.975 1)">6</text>
<text transform="translate(39.10 589.80) scale(0.975 1)">7</text>
<text transform="translate(32.90 712.80) scale(0.975 1)">8</text>
<text transform="translate(24.80 819.00) scale(0.975 1)">9</text>
<text transform="translate(25.70 869.60) scale(0.945 1)">10</text>
<text transform="translate(29.90 950.60) scale(0.945 1)">11</text>
<text transform="translate(30.70 1040.70) scale(0.945 1)">12</text>
<text transform="translate(31.50 1129.30) scale(0.945 1)">13</text>
<text transform="translate(255.80 664.20) scale(0.945 1)">14</text>
<text transform="translate(309.90 648.60) scale(0.945 1)">15</text>
<text transform="translate(368.80 641.40) scale(0.945 1)">16</text>
<text transform="translate(446.20 644.70) scale(0.945 1)">17</text>
<text transform="translate(338.90 395.30) scale(0.945 1)">18</text>
<text transform="translate(415.70 256.40) scale(0.945 1)">19</text>
<text transform="translate(414.20 328.80) scale(0.975 1)">20</text>
<text transform="translate(415.50 389.40) scale(0.975 1)">21</text>
<text transform="translate(567.90 620.70) scale(0.975 1)">22</text>
<text transform="translate(569.90 677.90) scale(0.975 1)">23</text>
<text transform="translate(575.30 738.60) scale(0.975 1)">24</text>
<text transform="translate(576.50 803.10) scale(0.975 1)">25</text>
<text transform="translate(569.20 861.50) scale(0.975 1)">26</text>
<text transform="translate(429.10 863.60) scale(0.975 1)">27</text>
<text transform="translate(429.10 920.60) scale(0.975 1)">28</text>
<text transform="translate(429.10 999.10) scale(0.975 1)">29</text>
<text transform="translate(429.10 1066.80) scale(0.975 1)">30</text>
<text transform="translate(429.10 1131.10) scale(0.975 1)">31</text>
<text transform="translate(721.40 726.80) scale(0.975 1)">32</text>
<text transform="translate(729.00 664.20) scale(0.975 1)">33</text>
<text transform="translate(721.00 601.00) scale(0.975 1)">34</text>
<text transform="translate(905.90 236.70) scale(0.975 1)">35</text>
<text transform="translate(1134.00 614.10) scale(0.975 1)">36</text>
<text transform="translate(1134.00 879.30) scale(0.975 1)">37</text>
<text transform="translate(1134.00 1057.50) scale(0.975 1)">38</text>
</g>
</svg>
</body></html>
